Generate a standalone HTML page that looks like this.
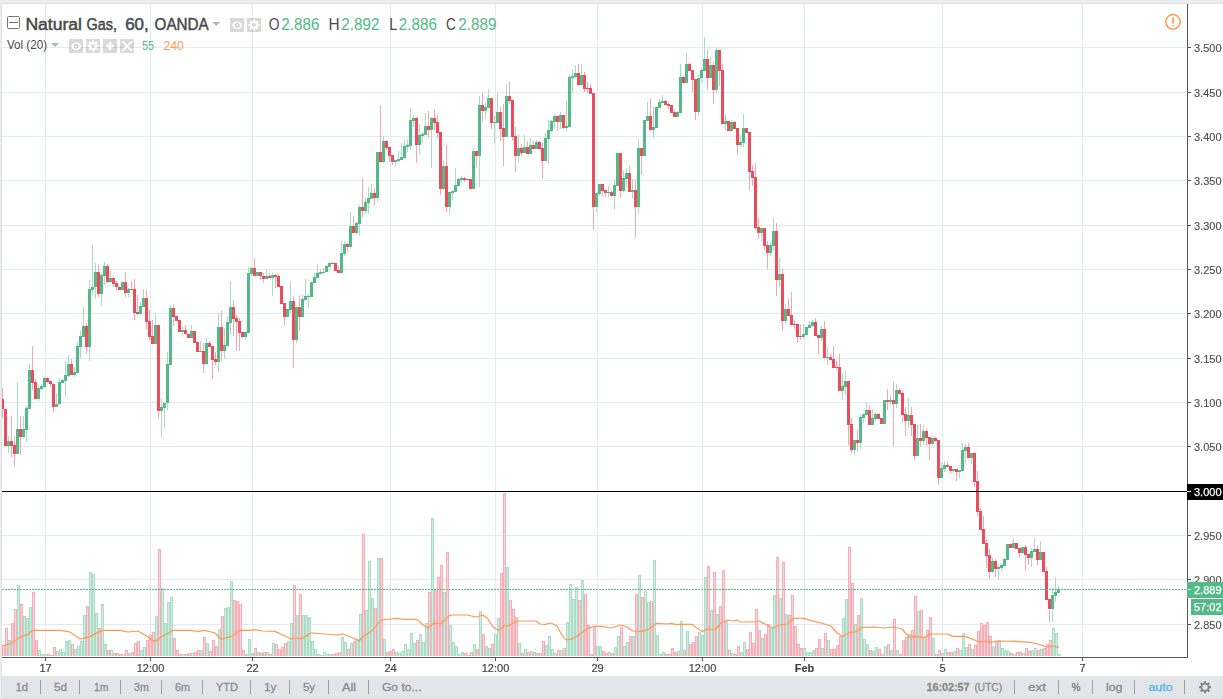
<!DOCTYPE html>
<html><head><meta charset="utf-8"><title>Natural Gas, 60, OANDA</title>
<style>html,body{margin:0;padding:0;background:#fff;overflow:hidden}body{width:1223px;height:699px;position:relative;font-family:"Liberation Sans",sans-serif}</style>
</head><body>
<svg width="1223" height="699" viewBox="0 0 1223 699" style="position:absolute;left:0;top:0;display:block">
<rect x="0" y="0" width="1223" height="699" fill="#eaeef1"/>
<rect x="1" y="3" width="1222" height="696" fill="#dde1e5"/>
<rect x="2" y="4" width="1221" height="695" fill="#ffffff"/>
<g shape-rendering="crispEdges">
<rect x="2" y="47" width="1184" height="1" fill="#e1ecf2"/>
<rect x="2" y="92" width="1184" height="1" fill="#e1ecf2"/>
<rect x="2" y="136" width="1184" height="1" fill="#e1ecf2"/>
<rect x="2" y="180" width="1184" height="1" fill="#e1ecf2"/>
<rect x="2" y="225" width="1184" height="1" fill="#e1ecf2"/>
<rect x="2" y="269" width="1184" height="1" fill="#e1ecf2"/>
<rect x="2" y="313" width="1184" height="1" fill="#e1ecf2"/>
<rect x="2" y="358" width="1184" height="1" fill="#e1ecf2"/>
<rect x="2" y="402" width="1184" height="1" fill="#e1ecf2"/>
<rect x="2" y="446" width="1184" height="1" fill="#e1ecf2"/>
<rect x="2" y="535" width="1184" height="1" fill="#e1ecf2"/>
<rect x="2" y="579" width="1184" height="1" fill="#e1ecf2"/>
<rect x="2" y="624" width="1184" height="1" fill="#e1ecf2"/>
<rect x="45" y="4" width="1" height="653" fill="#e1ecf2"/>
<rect x="150" y="4" width="1" height="653" fill="#e1ecf2"/>
<rect x="252" y="4" width="1" height="653" fill="#e1ecf2"/>
<rect x="390" y="4" width="1" height="653" fill="#e1ecf2"/>
<rect x="495" y="4" width="1" height="653" fill="#e1ecf2"/>
<rect x="597" y="4" width="1" height="653" fill="#e1ecf2"/>
<rect x="702" y="4" width="1" height="653" fill="#e1ecf2"/>
<rect x="804" y="4" width="1" height="653" fill="#e1ecf2"/>
<rect x="942" y="4" width="1" height="653" fill="#e1ecf2"/>
<rect x="1082" y="4" width="1" height="653" fill="#e1ecf2"/>
<rect x="2" y="645" width="3" height="11" fill="#f5adb6"/>
<rect x="3" y="646" width="1" height="10" fill="#fcd6db"/>
<rect x="5" y="628" width="3" height="28" fill="#f5adb6"/>
<rect x="6" y="629" width="1" height="27" fill="#fcd6db"/>
<rect x="8" y="640" width="3" height="16" fill="#abdcc6"/>
<rect x="9" y="641" width="1" height="15" fill="#d2ede1"/>
<rect x="11" y="623" width="3" height="33" fill="#f5adb6"/>
<rect x="12" y="624" width="1" height="32" fill="#fcd6db"/>
<rect x="14" y="609" width="3" height="47" fill="#f5adb6"/>
<rect x="15" y="610" width="1" height="46" fill="#fcd6db"/>
<rect x="17" y="585" width="3" height="71" fill="#abdcc6"/>
<rect x="18" y="586" width="1" height="70" fill="#d2ede1"/>
<rect x="20" y="604" width="3" height="52" fill="#f5adb6"/>
<rect x="21" y="605" width="1" height="51" fill="#fcd6db"/>
<rect x="23" y="616" width="3" height="40" fill="#abdcc6"/>
<rect x="24" y="617" width="1" height="39" fill="#d2ede1"/>
<rect x="26" y="618" width="3" height="38" fill="#abdcc6"/>
<rect x="27" y="619" width="1" height="37" fill="#d2ede1"/>
<rect x="29" y="607" width="3" height="49" fill="#abdcc6"/>
<rect x="30" y="608" width="1" height="48" fill="#d2ede1"/>
<rect x="32" y="592" width="3" height="64" fill="#f5adb6"/>
<rect x="33" y="593" width="1" height="63" fill="#fcd6db"/>
<rect x="35" y="640" width="3" height="16" fill="#f5adb6"/>
<rect x="36" y="641" width="1" height="15" fill="#fcd6db"/>
<rect x="38" y="650" width="3" height="6" fill="#abdcc6"/>
<rect x="39" y="651" width="1" height="5" fill="#d2ede1"/>
<rect x="41" y="654" width="3" height="2" fill="#abdcc6"/>
<rect x="42" y="655" width="1" height="1" fill="#d2ede1"/>
<rect x="44" y="654" width="3" height="2" fill="#abdcc6"/>
<rect x="45" y="655" width="1" height="1" fill="#d2ede1"/>
<rect x="47" y="654" width="3" height="2" fill="#f5adb6"/>
<rect x="48" y="655" width="1" height="1" fill="#fcd6db"/>
<rect x="50" y="655" width="3" height="1" fill="#f5adb6"/>
<rect x="53" y="647" width="3" height="9" fill="#f5adb6"/>
<rect x="54" y="648" width="1" height="8" fill="#fcd6db"/>
<rect x="56" y="651" width="3" height="5" fill="#abdcc6"/>
<rect x="57" y="652" width="1" height="4" fill="#d2ede1"/>
<rect x="59" y="649" width="3" height="7" fill="#abdcc6"/>
<rect x="60" y="650" width="1" height="6" fill="#d2ede1"/>
<rect x="62" y="652" width="3" height="4" fill="#abdcc6"/>
<rect x="63" y="653" width="1" height="3" fill="#d2ede1"/>
<rect x="65" y="641" width="3" height="15" fill="#abdcc6"/>
<rect x="66" y="642" width="1" height="14" fill="#d2ede1"/>
<rect x="68" y="640" width="3" height="16" fill="#abdcc6"/>
<rect x="69" y="641" width="1" height="15" fill="#d2ede1"/>
<rect x="71" y="644" width="3" height="12" fill="#f5adb6"/>
<rect x="72" y="645" width="1" height="11" fill="#fcd6db"/>
<rect x="74" y="649" width="3" height="7" fill="#abdcc6"/>
<rect x="75" y="650" width="1" height="6" fill="#d2ede1"/>
<rect x="77" y="646" width="3" height="10" fill="#abdcc6"/>
<rect x="78" y="647" width="1" height="9" fill="#d2ede1"/>
<rect x="80" y="641" width="3" height="15" fill="#abdcc6"/>
<rect x="81" y="642" width="1" height="14" fill="#d2ede1"/>
<rect x="83" y="615" width="3" height="41" fill="#abdcc6"/>
<rect x="84" y="616" width="1" height="40" fill="#d2ede1"/>
<rect x="86" y="606" width="3" height="50" fill="#f5adb6"/>
<rect x="87" y="607" width="1" height="49" fill="#fcd6db"/>
<rect x="89" y="572" width="3" height="84" fill="#abdcc6"/>
<rect x="90" y="573" width="1" height="83" fill="#d2ede1"/>
<rect x="92" y="574" width="3" height="82" fill="#abdcc6"/>
<rect x="93" y="575" width="1" height="81" fill="#d2ede1"/>
<rect x="95" y="613" width="3" height="43" fill="#abdcc6"/>
<rect x="96" y="614" width="1" height="42" fill="#d2ede1"/>
<rect x="98" y="628" width="3" height="28" fill="#f5adb6"/>
<rect x="99" y="629" width="1" height="27" fill="#fcd6db"/>
<rect x="101" y="604" width="3" height="52" fill="#abdcc6"/>
<rect x="102" y="605" width="1" height="51" fill="#d2ede1"/>
<rect x="104" y="644" width="3" height="12" fill="#abdcc6"/>
<rect x="105" y="645" width="1" height="11" fill="#d2ede1"/>
<rect x="107" y="650" width="3" height="6" fill="#f5adb6"/>
<rect x="108" y="651" width="1" height="5" fill="#fcd6db"/>
<rect x="110" y="650" width="3" height="6" fill="#abdcc6"/>
<rect x="111" y="651" width="1" height="5" fill="#d2ede1"/>
<rect x="113" y="653" width="3" height="3" fill="#f5adb6"/>
<rect x="114" y="654" width="1" height="2" fill="#fcd6db"/>
<rect x="116" y="653" width="3" height="3" fill="#f5adb6"/>
<rect x="117" y="654" width="1" height="2" fill="#fcd6db"/>
<rect x="119" y="654" width="3" height="2" fill="#f5adb6"/>
<rect x="120" y="655" width="1" height="1" fill="#fcd6db"/>
<rect x="122" y="654" width="3" height="2" fill="#abdcc6"/>
<rect x="123" y="655" width="1" height="1" fill="#d2ede1"/>
<rect x="125" y="650" width="3" height="6" fill="#f5adb6"/>
<rect x="126" y="651" width="1" height="5" fill="#fcd6db"/>
<rect x="128" y="653" width="3" height="3" fill="#abdcc6"/>
<rect x="129" y="654" width="1" height="2" fill="#d2ede1"/>
<rect x="131" y="652" width="3" height="4" fill="#f5adb6"/>
<rect x="132" y="653" width="1" height="3" fill="#fcd6db"/>
<rect x="134" y="643" width="3" height="13" fill="#f5adb6"/>
<rect x="135" y="644" width="1" height="12" fill="#fcd6db"/>
<rect x="137" y="641" width="3" height="15" fill="#f5adb6"/>
<rect x="138" y="642" width="1" height="14" fill="#fcd6db"/>
<rect x="140" y="650" width="3" height="6" fill="#abdcc6"/>
<rect x="141" y="651" width="1" height="5" fill="#d2ede1"/>
<rect x="143" y="647" width="3" height="9" fill="#abdcc6"/>
<rect x="144" y="648" width="1" height="8" fill="#d2ede1"/>
<rect x="146" y="640" width="3" height="16" fill="#f5adb6"/>
<rect x="147" y="641" width="1" height="15" fill="#fcd6db"/>
<rect x="149" y="635" width="3" height="21" fill="#f5adb6"/>
<rect x="150" y="636" width="1" height="20" fill="#fcd6db"/>
<rect x="152" y="632" width="3" height="24" fill="#f5adb6"/>
<rect x="153" y="633" width="1" height="23" fill="#fcd6db"/>
<rect x="155" y="616" width="3" height="40" fill="#abdcc6"/>
<rect x="156" y="617" width="1" height="39" fill="#d2ede1"/>
<rect x="158" y="549" width="3" height="107" fill="#f5adb6"/>
<rect x="159" y="550" width="1" height="106" fill="#fcd6db"/>
<rect x="161" y="588" width="3" height="68" fill="#abdcc6"/>
<rect x="162" y="589" width="1" height="67" fill="#d2ede1"/>
<rect x="164" y="623" width="3" height="33" fill="#abdcc6"/>
<rect x="165" y="624" width="1" height="32" fill="#d2ede1"/>
<rect x="167" y="602" width="3" height="54" fill="#abdcc6"/>
<rect x="168" y="603" width="1" height="53" fill="#d2ede1"/>
<rect x="170" y="597" width="3" height="59" fill="#abdcc6"/>
<rect x="171" y="598" width="1" height="58" fill="#d2ede1"/>
<rect x="173" y="638" width="3" height="18" fill="#f5adb6"/>
<rect x="174" y="639" width="1" height="17" fill="#fcd6db"/>
<rect x="176" y="650" width="3" height="6" fill="#f5adb6"/>
<rect x="177" y="651" width="1" height="5" fill="#fcd6db"/>
<rect x="179" y="654" width="3" height="2" fill="#f5adb6"/>
<rect x="180" y="655" width="1" height="1" fill="#fcd6db"/>
<rect x="182" y="654" width="3" height="2" fill="#abdcc6"/>
<rect x="183" y="655" width="1" height="1" fill="#d2ede1"/>
<rect x="185" y="654" width="3" height="2" fill="#f5adb6"/>
<rect x="186" y="655" width="1" height="1" fill="#fcd6db"/>
<rect x="188" y="653" width="3" height="3" fill="#f5adb6"/>
<rect x="189" y="654" width="1" height="2" fill="#fcd6db"/>
<rect x="191" y="653" width="3" height="3" fill="#abdcc6"/>
<rect x="192" y="654" width="1" height="2" fill="#d2ede1"/>
<rect x="194" y="652" width="3" height="4" fill="#f5adb6"/>
<rect x="195" y="653" width="1" height="3" fill="#fcd6db"/>
<rect x="197" y="650" width="3" height="6" fill="#f5adb6"/>
<rect x="198" y="651" width="1" height="5" fill="#fcd6db"/>
<rect x="200" y="650" width="3" height="6" fill="#abdcc6"/>
<rect x="201" y="651" width="1" height="5" fill="#d2ede1"/>
<rect x="203" y="637" width="3" height="19" fill="#f5adb6"/>
<rect x="204" y="638" width="1" height="18" fill="#fcd6db"/>
<rect x="206" y="643" width="3" height="13" fill="#abdcc6"/>
<rect x="207" y="644" width="1" height="12" fill="#d2ede1"/>
<rect x="209" y="651" width="3" height="5" fill="#f5adb6"/>
<rect x="210" y="652" width="1" height="4" fill="#fcd6db"/>
<rect x="212" y="640" width="3" height="16" fill="#f5adb6"/>
<rect x="213" y="641" width="1" height="15" fill="#fcd6db"/>
<rect x="215" y="646" width="3" height="10" fill="#f5adb6"/>
<rect x="216" y="647" width="1" height="9" fill="#fcd6db"/>
<rect x="218" y="629" width="3" height="27" fill="#abdcc6"/>
<rect x="219" y="630" width="1" height="26" fill="#d2ede1"/>
<rect x="221" y="616" width="3" height="40" fill="#f5adb6"/>
<rect x="222" y="617" width="1" height="39" fill="#fcd6db"/>
<rect x="224" y="608" width="3" height="48" fill="#abdcc6"/>
<rect x="225" y="609" width="1" height="47" fill="#d2ede1"/>
<rect x="227" y="607" width="3" height="49" fill="#abdcc6"/>
<rect x="228" y="608" width="1" height="48" fill="#d2ede1"/>
<rect x="230" y="581" width="3" height="75" fill="#abdcc6"/>
<rect x="231" y="582" width="1" height="74" fill="#d2ede1"/>
<rect x="233" y="600" width="3" height="56" fill="#f5adb6"/>
<rect x="234" y="601" width="1" height="55" fill="#fcd6db"/>
<rect x="236" y="601" width="3" height="55" fill="#f5adb6"/>
<rect x="237" y="602" width="1" height="54" fill="#fcd6db"/>
<rect x="239" y="604" width="3" height="52" fill="#f5adb6"/>
<rect x="240" y="605" width="1" height="51" fill="#fcd6db"/>
<rect x="242" y="650" width="3" height="6" fill="#f5adb6"/>
<rect x="243" y="651" width="1" height="5" fill="#fcd6db"/>
<rect x="245" y="654" width="3" height="2" fill="#abdcc6"/>
<rect x="246" y="655" width="1" height="1" fill="#d2ede1"/>
<rect x="248" y="639" width="3" height="17" fill="#abdcc6"/>
<rect x="249" y="640" width="1" height="16" fill="#d2ede1"/>
<rect x="251" y="653" width="3" height="3" fill="#abdcc6"/>
<rect x="252" y="654" width="1" height="2" fill="#d2ede1"/>
<rect x="254" y="648" width="3" height="8" fill="#f5adb6"/>
<rect x="255" y="649" width="1" height="7" fill="#fcd6db"/>
<rect x="257" y="652" width="3" height="4" fill="#abdcc6"/>
<rect x="258" y="653" width="1" height="3" fill="#d2ede1"/>
<rect x="260" y="653" width="3" height="3" fill="#f5adb6"/>
<rect x="261" y="654" width="1" height="2" fill="#fcd6db"/>
<rect x="263" y="652" width="3" height="4" fill="#f5adb6"/>
<rect x="264" y="653" width="1" height="3" fill="#fcd6db"/>
<rect x="266" y="652" width="3" height="4" fill="#abdcc6"/>
<rect x="267" y="653" width="1" height="3" fill="#d2ede1"/>
<rect x="269" y="654" width="3" height="2" fill="#f5adb6"/>
<rect x="270" y="655" width="1" height="1" fill="#fcd6db"/>
<rect x="272" y="643" width="3" height="13" fill="#abdcc6"/>
<rect x="273" y="644" width="1" height="12" fill="#d2ede1"/>
<rect x="275" y="644" width="3" height="12" fill="#f5adb6"/>
<rect x="276" y="645" width="1" height="11" fill="#fcd6db"/>
<rect x="278" y="649" width="3" height="7" fill="#f5adb6"/>
<rect x="279" y="650" width="1" height="6" fill="#fcd6db"/>
<rect x="281" y="647" width="3" height="9" fill="#f5adb6"/>
<rect x="282" y="648" width="1" height="8" fill="#fcd6db"/>
<rect x="284" y="643" width="3" height="13" fill="#f5adb6"/>
<rect x="285" y="644" width="1" height="12" fill="#fcd6db"/>
<rect x="287" y="641" width="3" height="15" fill="#abdcc6"/>
<rect x="288" y="642" width="1" height="14" fill="#d2ede1"/>
<rect x="290" y="623" width="3" height="33" fill="#abdcc6"/>
<rect x="291" y="624" width="1" height="32" fill="#d2ede1"/>
<rect x="293" y="585" width="3" height="71" fill="#f5adb6"/>
<rect x="294" y="586" width="1" height="70" fill="#fcd6db"/>
<rect x="296" y="615" width="3" height="41" fill="#abdcc6"/>
<rect x="297" y="616" width="1" height="40" fill="#d2ede1"/>
<rect x="299" y="594" width="3" height="62" fill="#f5adb6"/>
<rect x="300" y="595" width="1" height="61" fill="#fcd6db"/>
<rect x="302" y="615" width="3" height="41" fill="#abdcc6"/>
<rect x="303" y="616" width="1" height="40" fill="#d2ede1"/>
<rect x="305" y="615" width="3" height="41" fill="#abdcc6"/>
<rect x="306" y="616" width="1" height="40" fill="#d2ede1"/>
<rect x="308" y="617" width="3" height="39" fill="#abdcc6"/>
<rect x="309" y="618" width="1" height="38" fill="#d2ede1"/>
<rect x="311" y="641" width="3" height="15" fill="#abdcc6"/>
<rect x="312" y="642" width="1" height="14" fill="#d2ede1"/>
<rect x="314" y="649" width="3" height="7" fill="#abdcc6"/>
<rect x="315" y="650" width="1" height="6" fill="#d2ede1"/>
<rect x="317" y="654" width="3" height="2" fill="#abdcc6"/>
<rect x="318" y="655" width="1" height="1" fill="#d2ede1"/>
<rect x="320" y="655" width="3" height="1" fill="#abdcc6"/>
<rect x="323" y="652" width="3" height="4" fill="#abdcc6"/>
<rect x="324" y="653" width="1" height="3" fill="#d2ede1"/>
<rect x="326" y="654" width="3" height="2" fill="#abdcc6"/>
<rect x="327" y="655" width="1" height="1" fill="#d2ede1"/>
<rect x="329" y="654" width="3" height="2" fill="#abdcc6"/>
<rect x="330" y="655" width="1" height="1" fill="#d2ede1"/>
<rect x="332" y="654" width="3" height="2" fill="#f5adb6"/>
<rect x="333" y="655" width="1" height="1" fill="#fcd6db"/>
<rect x="335" y="653" width="3" height="3" fill="#f5adb6"/>
<rect x="336" y="654" width="1" height="2" fill="#fcd6db"/>
<rect x="338" y="652" width="3" height="4" fill="#f5adb6"/>
<rect x="339" y="653" width="1" height="3" fill="#fcd6db"/>
<rect x="341" y="637" width="3" height="19" fill="#abdcc6"/>
<rect x="342" y="638" width="1" height="18" fill="#d2ede1"/>
<rect x="344" y="642" width="3" height="14" fill="#abdcc6"/>
<rect x="345" y="643" width="1" height="13" fill="#d2ede1"/>
<rect x="347" y="649" width="3" height="7" fill="#f5adb6"/>
<rect x="348" y="650" width="1" height="6" fill="#fcd6db"/>
<rect x="350" y="643" width="3" height="13" fill="#abdcc6"/>
<rect x="351" y="644" width="1" height="12" fill="#d2ede1"/>
<rect x="353" y="641" width="3" height="15" fill="#f5adb6"/>
<rect x="354" y="642" width="1" height="14" fill="#fcd6db"/>
<rect x="356" y="639" width="3" height="17" fill="#abdcc6"/>
<rect x="357" y="640" width="1" height="16" fill="#d2ede1"/>
<rect x="359" y="614" width="3" height="42" fill="#abdcc6"/>
<rect x="360" y="615" width="1" height="41" fill="#d2ede1"/>
<rect x="362" y="534" width="3" height="122" fill="#f5adb6"/>
<rect x="363" y="535" width="1" height="121" fill="#fcd6db"/>
<rect x="365" y="610" width="3" height="46" fill="#abdcc6"/>
<rect x="366" y="611" width="1" height="45" fill="#d2ede1"/>
<rect x="368" y="561" width="3" height="95" fill="#abdcc6"/>
<rect x="369" y="562" width="1" height="94" fill="#d2ede1"/>
<rect x="371" y="598" width="3" height="58" fill="#abdcc6"/>
<rect x="372" y="599" width="1" height="57" fill="#d2ede1"/>
<rect x="374" y="608" width="3" height="48" fill="#f5adb6"/>
<rect x="375" y="609" width="1" height="47" fill="#fcd6db"/>
<rect x="377" y="558" width="3" height="98" fill="#abdcc6"/>
<rect x="378" y="559" width="1" height="97" fill="#d2ede1"/>
<rect x="380" y="558" width="3" height="98" fill="#f5adb6"/>
<rect x="381" y="559" width="1" height="97" fill="#fcd6db"/>
<rect x="383" y="639" width="3" height="17" fill="#abdcc6"/>
<rect x="384" y="640" width="1" height="16" fill="#d2ede1"/>
<rect x="386" y="652" width="3" height="4" fill="#f5adb6"/>
<rect x="387" y="653" width="1" height="3" fill="#fcd6db"/>
<rect x="389" y="651" width="3" height="5" fill="#f5adb6"/>
<rect x="390" y="652" width="1" height="4" fill="#fcd6db"/>
<rect x="392" y="649" width="3" height="7" fill="#f5adb6"/>
<rect x="393" y="650" width="1" height="6" fill="#fcd6db"/>
<rect x="395" y="652" width="3" height="4" fill="#abdcc6"/>
<rect x="396" y="653" width="1" height="3" fill="#d2ede1"/>
<rect x="398" y="653" width="3" height="3" fill="#abdcc6"/>
<rect x="399" y="654" width="1" height="2" fill="#d2ede1"/>
<rect x="401" y="651" width="3" height="5" fill="#abdcc6"/>
<rect x="402" y="652" width="1" height="4" fill="#d2ede1"/>
<rect x="404" y="644" width="3" height="12" fill="#abdcc6"/>
<rect x="405" y="645" width="1" height="11" fill="#d2ede1"/>
<rect x="407" y="649" width="3" height="7" fill="#abdcc6"/>
<rect x="408" y="650" width="1" height="6" fill="#d2ede1"/>
<rect x="410" y="633" width="3" height="23" fill="#abdcc6"/>
<rect x="411" y="634" width="1" height="22" fill="#d2ede1"/>
<rect x="413" y="643" width="3" height="13" fill="#abdcc6"/>
<rect x="414" y="644" width="1" height="12" fill="#d2ede1"/>
<rect x="416" y="640" width="3" height="16" fill="#f5adb6"/>
<rect x="417" y="641" width="1" height="15" fill="#fcd6db"/>
<rect x="419" y="634" width="3" height="22" fill="#abdcc6"/>
<rect x="420" y="635" width="1" height="21" fill="#d2ede1"/>
<rect x="422" y="642" width="3" height="14" fill="#abdcc6"/>
<rect x="423" y="643" width="1" height="13" fill="#d2ede1"/>
<rect x="425" y="623" width="3" height="33" fill="#abdcc6"/>
<rect x="426" y="624" width="1" height="32" fill="#d2ede1"/>
<rect x="428" y="592" width="3" height="64" fill="#f5adb6"/>
<rect x="429" y="593" width="1" height="63" fill="#fcd6db"/>
<rect x="431" y="518" width="3" height="138" fill="#abdcc6"/>
<rect x="432" y="519" width="1" height="137" fill="#d2ede1"/>
<rect x="434" y="590" width="3" height="66" fill="#f5adb6"/>
<rect x="435" y="591" width="1" height="65" fill="#fcd6db"/>
<rect x="437" y="577" width="3" height="79" fill="#f5adb6"/>
<rect x="438" y="578" width="1" height="78" fill="#fcd6db"/>
<rect x="440" y="565" width="3" height="91" fill="#f5adb6"/>
<rect x="441" y="566" width="1" height="90" fill="#fcd6db"/>
<rect x="443" y="592" width="3" height="64" fill="#abdcc6"/>
<rect x="444" y="593" width="1" height="63" fill="#d2ede1"/>
<rect x="446" y="552" width="3" height="104" fill="#f5adb6"/>
<rect x="447" y="553" width="1" height="103" fill="#fcd6db"/>
<rect x="449" y="625" width="3" height="31" fill="#abdcc6"/>
<rect x="450" y="626" width="1" height="30" fill="#d2ede1"/>
<rect x="452" y="642" width="3" height="14" fill="#abdcc6"/>
<rect x="453" y="643" width="1" height="13" fill="#d2ede1"/>
<rect x="455" y="646" width="3" height="10" fill="#abdcc6"/>
<rect x="456" y="647" width="1" height="9" fill="#d2ede1"/>
<rect x="458" y="654" width="3" height="2" fill="#abdcc6"/>
<rect x="459" y="655" width="1" height="1" fill="#d2ede1"/>
<rect x="461" y="652" width="3" height="4" fill="#abdcc6"/>
<rect x="462" y="653" width="1" height="3" fill="#d2ede1"/>
<rect x="464" y="653" width="3" height="3" fill="#f5adb6"/>
<rect x="465" y="654" width="1" height="2" fill="#fcd6db"/>
<rect x="467" y="655" width="3" height="1" fill="#f5adb6"/>
<rect x="470" y="652" width="3" height="4" fill="#f5adb6"/>
<rect x="471" y="653" width="1" height="3" fill="#fcd6db"/>
<rect x="473" y="644" width="3" height="12" fill="#abdcc6"/>
<rect x="474" y="645" width="1" height="11" fill="#d2ede1"/>
<rect x="476" y="649" width="3" height="7" fill="#f5adb6"/>
<rect x="477" y="650" width="1" height="6" fill="#fcd6db"/>
<rect x="479" y="611" width="3" height="45" fill="#abdcc6"/>
<rect x="480" y="612" width="1" height="44" fill="#d2ede1"/>
<rect x="482" y="634" width="3" height="22" fill="#f5adb6"/>
<rect x="483" y="635" width="1" height="21" fill="#fcd6db"/>
<rect x="485" y="646" width="3" height="10" fill="#abdcc6"/>
<rect x="486" y="647" width="1" height="9" fill="#d2ede1"/>
<rect x="488" y="648" width="3" height="8" fill="#abdcc6"/>
<rect x="489" y="649" width="1" height="7" fill="#d2ede1"/>
<rect x="491" y="644" width="3" height="12" fill="#f5adb6"/>
<rect x="492" y="645" width="1" height="11" fill="#fcd6db"/>
<rect x="494" y="634" width="3" height="22" fill="#abdcc6"/>
<rect x="495" y="635" width="1" height="21" fill="#d2ede1"/>
<rect x="497" y="618" width="3" height="38" fill="#abdcc6"/>
<rect x="498" y="619" width="1" height="37" fill="#d2ede1"/>
<rect x="500" y="573" width="3" height="83" fill="#f5adb6"/>
<rect x="501" y="574" width="1" height="82" fill="#fcd6db"/>
<rect x="503" y="493" width="3" height="163" fill="#f5adb6"/>
<rect x="504" y="494" width="1" height="162" fill="#fcd6db"/>
<rect x="506" y="567" width="3" height="89" fill="#abdcc6"/>
<rect x="507" y="568" width="1" height="88" fill="#d2ede1"/>
<rect x="509" y="600" width="3" height="56" fill="#f5adb6"/>
<rect x="510" y="601" width="1" height="55" fill="#fcd6db"/>
<rect x="512" y="609" width="3" height="47" fill="#f5adb6"/>
<rect x="513" y="610" width="1" height="46" fill="#fcd6db"/>
<rect x="515" y="617" width="3" height="39" fill="#f5adb6"/>
<rect x="516" y="618" width="1" height="38" fill="#fcd6db"/>
<rect x="518" y="643" width="3" height="13" fill="#abdcc6"/>
<rect x="519" y="644" width="1" height="12" fill="#d2ede1"/>
<rect x="521" y="653" width="3" height="3" fill="#f5adb6"/>
<rect x="522" y="654" width="1" height="2" fill="#fcd6db"/>
<rect x="524" y="649" width="3" height="7" fill="#abdcc6"/>
<rect x="525" y="650" width="1" height="6" fill="#d2ede1"/>
<rect x="527" y="652" width="3" height="4" fill="#f5adb6"/>
<rect x="528" y="653" width="1" height="3" fill="#fcd6db"/>
<rect x="530" y="651" width="3" height="5" fill="#abdcc6"/>
<rect x="531" y="652" width="1" height="4" fill="#d2ede1"/>
<rect x="533" y="652" width="3" height="4" fill="#f5adb6"/>
<rect x="534" y="653" width="1" height="3" fill="#fcd6db"/>
<rect x="536" y="653" width="3" height="3" fill="#abdcc6"/>
<rect x="537" y="654" width="1" height="2" fill="#d2ede1"/>
<rect x="539" y="653" width="3" height="3" fill="#f5adb6"/>
<rect x="540" y="654" width="1" height="2" fill="#fcd6db"/>
<rect x="542" y="641" width="3" height="15" fill="#f5adb6"/>
<rect x="543" y="642" width="1" height="14" fill="#fcd6db"/>
<rect x="545" y="645" width="3" height="11" fill="#abdcc6"/>
<rect x="546" y="646" width="1" height="10" fill="#d2ede1"/>
<rect x="548" y="636" width="3" height="20" fill="#abdcc6"/>
<rect x="549" y="637" width="1" height="19" fill="#d2ede1"/>
<rect x="551" y="649" width="3" height="7" fill="#abdcc6"/>
<rect x="552" y="650" width="1" height="6" fill="#d2ede1"/>
<rect x="554" y="653" width="3" height="3" fill="#abdcc6"/>
<rect x="555" y="654" width="1" height="2" fill="#d2ede1"/>
<rect x="557" y="650" width="3" height="6" fill="#f5adb6"/>
<rect x="558" y="651" width="1" height="5" fill="#fcd6db"/>
<rect x="560" y="650" width="3" height="6" fill="#abdcc6"/>
<rect x="561" y="651" width="1" height="5" fill="#d2ede1"/>
<rect x="563" y="648" width="3" height="8" fill="#f5adb6"/>
<rect x="564" y="649" width="1" height="7" fill="#fcd6db"/>
<rect x="566" y="622" width="3" height="34" fill="#abdcc6"/>
<rect x="567" y="623" width="1" height="33" fill="#d2ede1"/>
<rect x="569" y="584" width="3" height="72" fill="#abdcc6"/>
<rect x="570" y="585" width="1" height="71" fill="#d2ede1"/>
<rect x="572" y="599" width="3" height="57" fill="#abdcc6"/>
<rect x="573" y="600" width="1" height="56" fill="#d2ede1"/>
<rect x="575" y="587" width="3" height="69" fill="#abdcc6"/>
<rect x="576" y="588" width="1" height="68" fill="#d2ede1"/>
<rect x="578" y="600" width="3" height="56" fill="#f5adb6"/>
<rect x="579" y="601" width="1" height="55" fill="#fcd6db"/>
<rect x="581" y="580" width="3" height="76" fill="#abdcc6"/>
<rect x="582" y="581" width="1" height="75" fill="#d2ede1"/>
<rect x="584" y="594" width="3" height="62" fill="#f5adb6"/>
<rect x="585" y="595" width="1" height="61" fill="#fcd6db"/>
<rect x="587" y="625" width="3" height="31" fill="#f5adb6"/>
<rect x="588" y="626" width="1" height="30" fill="#fcd6db"/>
<rect x="590" y="654" width="3" height="2" fill="#f5adb6"/>
<rect x="591" y="655" width="1" height="1" fill="#fcd6db"/>
<rect x="593" y="626" width="3" height="30" fill="#f5adb6"/>
<rect x="594" y="627" width="1" height="29" fill="#fcd6db"/>
<rect x="596" y="646" width="3" height="10" fill="#abdcc6"/>
<rect x="597" y="647" width="1" height="9" fill="#d2ede1"/>
<rect x="599" y="646" width="3" height="10" fill="#abdcc6"/>
<rect x="600" y="647" width="1" height="9" fill="#d2ede1"/>
<rect x="602" y="651" width="3" height="5" fill="#f5adb6"/>
<rect x="603" y="652" width="1" height="4" fill="#fcd6db"/>
<rect x="605" y="653" width="3" height="3" fill="#f5adb6"/>
<rect x="606" y="654" width="1" height="2" fill="#fcd6db"/>
<rect x="608" y="652" width="3" height="4" fill="#abdcc6"/>
<rect x="609" y="653" width="1" height="3" fill="#d2ede1"/>
<rect x="611" y="653" width="3" height="3" fill="#f5adb6"/>
<rect x="612" y="654" width="1" height="2" fill="#fcd6db"/>
<rect x="614" y="647" width="3" height="9" fill="#abdcc6"/>
<rect x="615" y="648" width="1" height="8" fill="#d2ede1"/>
<rect x="617" y="636" width="3" height="20" fill="#abdcc6"/>
<rect x="618" y="637" width="1" height="19" fill="#d2ede1"/>
<rect x="620" y="627" width="3" height="29" fill="#f5adb6"/>
<rect x="621" y="628" width="1" height="28" fill="#fcd6db"/>
<rect x="623" y="646" width="3" height="10" fill="#abdcc6"/>
<rect x="624" y="647" width="1" height="9" fill="#d2ede1"/>
<rect x="626" y="642" width="3" height="14" fill="#abdcc6"/>
<rect x="627" y="643" width="1" height="13" fill="#d2ede1"/>
<rect x="629" y="636" width="3" height="20" fill="#f5adb6"/>
<rect x="630" y="637" width="1" height="19" fill="#fcd6db"/>
<rect x="632" y="636" width="3" height="20" fill="#abdcc6"/>
<rect x="633" y="637" width="1" height="19" fill="#d2ede1"/>
<rect x="635" y="594" width="3" height="62" fill="#f5adb6"/>
<rect x="636" y="595" width="1" height="61" fill="#fcd6db"/>
<rect x="638" y="575" width="3" height="81" fill="#abdcc6"/>
<rect x="639" y="576" width="1" height="80" fill="#d2ede1"/>
<rect x="641" y="597" width="3" height="59" fill="#f5adb6"/>
<rect x="642" y="598" width="1" height="58" fill="#fcd6db"/>
<rect x="644" y="591" width="3" height="65" fill="#abdcc6"/>
<rect x="645" y="592" width="1" height="64" fill="#d2ede1"/>
<rect x="647" y="602" width="3" height="54" fill="#abdcc6"/>
<rect x="648" y="603" width="1" height="53" fill="#d2ede1"/>
<rect x="650" y="601" width="3" height="55" fill="#f5adb6"/>
<rect x="651" y="602" width="1" height="54" fill="#fcd6db"/>
<rect x="653" y="560" width="3" height="96" fill="#abdcc6"/>
<rect x="654" y="561" width="1" height="95" fill="#d2ede1"/>
<rect x="656" y="635" width="3" height="21" fill="#abdcc6"/>
<rect x="657" y="636" width="1" height="20" fill="#d2ede1"/>
<rect x="659" y="654" width="3" height="2" fill="#abdcc6"/>
<rect x="660" y="655" width="1" height="1" fill="#d2ede1"/>
<rect x="662" y="652" width="3" height="4" fill="#abdcc6"/>
<rect x="663" y="653" width="1" height="3" fill="#d2ede1"/>
<rect x="665" y="654" width="3" height="2" fill="#f5adb6"/>
<rect x="666" y="655" width="1" height="1" fill="#fcd6db"/>
<rect x="668" y="654" width="3" height="2" fill="#f5adb6"/>
<rect x="669" y="655" width="1" height="1" fill="#fcd6db"/>
<rect x="671" y="648" width="3" height="8" fill="#f5adb6"/>
<rect x="672" y="649" width="1" height="7" fill="#fcd6db"/>
<rect x="674" y="652" width="3" height="4" fill="#f5adb6"/>
<rect x="675" y="653" width="1" height="3" fill="#fcd6db"/>
<rect x="677" y="651" width="3" height="5" fill="#abdcc6"/>
<rect x="678" y="652" width="1" height="4" fill="#d2ede1"/>
<rect x="680" y="621" width="3" height="35" fill="#abdcc6"/>
<rect x="681" y="622" width="1" height="34" fill="#d2ede1"/>
<rect x="683" y="650" width="3" height="6" fill="#f5adb6"/>
<rect x="684" y="651" width="1" height="5" fill="#fcd6db"/>
<rect x="686" y="631" width="3" height="25" fill="#abdcc6"/>
<rect x="687" y="632" width="1" height="24" fill="#d2ede1"/>
<rect x="689" y="644" width="3" height="12" fill="#f5adb6"/>
<rect x="690" y="645" width="1" height="11" fill="#fcd6db"/>
<rect x="692" y="642" width="3" height="14" fill="#f5adb6"/>
<rect x="693" y="643" width="1" height="13" fill="#fcd6db"/>
<rect x="695" y="636" width="3" height="20" fill="#f5adb6"/>
<rect x="696" y="637" width="1" height="19" fill="#fcd6db"/>
<rect x="698" y="632" width="3" height="24" fill="#abdcc6"/>
<rect x="699" y="633" width="1" height="23" fill="#d2ede1"/>
<rect x="701" y="635" width="3" height="21" fill="#abdcc6"/>
<rect x="702" y="636" width="1" height="20" fill="#d2ede1"/>
<rect x="704" y="577" width="3" height="79" fill="#abdcc6"/>
<rect x="705" y="578" width="1" height="78" fill="#d2ede1"/>
<rect x="707" y="566" width="3" height="90" fill="#f5adb6"/>
<rect x="708" y="567" width="1" height="89" fill="#fcd6db"/>
<rect x="710" y="610" width="3" height="46" fill="#abdcc6"/>
<rect x="711" y="611" width="1" height="45" fill="#d2ede1"/>
<rect x="713" y="572" width="3" height="84" fill="#f5adb6"/>
<rect x="714" y="573" width="1" height="83" fill="#fcd6db"/>
<rect x="716" y="614" width="3" height="42" fill="#abdcc6"/>
<rect x="717" y="615" width="1" height="41" fill="#d2ede1"/>
<rect x="719" y="606" width="3" height="50" fill="#f5adb6"/>
<rect x="720" y="607" width="1" height="49" fill="#fcd6db"/>
<rect x="722" y="570" width="3" height="86" fill="#f5adb6"/>
<rect x="723" y="571" width="1" height="85" fill="#fcd6db"/>
<rect x="725" y="621" width="3" height="35" fill="#abdcc6"/>
<rect x="726" y="622" width="1" height="34" fill="#d2ede1"/>
<rect x="728" y="650" width="3" height="6" fill="#f5adb6"/>
<rect x="729" y="651" width="1" height="5" fill="#fcd6db"/>
<rect x="731" y="653" width="3" height="3" fill="#abdcc6"/>
<rect x="732" y="654" width="1" height="2" fill="#d2ede1"/>
<rect x="734" y="654" width="3" height="2" fill="#f5adb6"/>
<rect x="735" y="655" width="1" height="1" fill="#fcd6db"/>
<rect x="737" y="646" width="3" height="10" fill="#f5adb6"/>
<rect x="738" y="647" width="1" height="9" fill="#fcd6db"/>
<rect x="740" y="652" width="3" height="4" fill="#abdcc6"/>
<rect x="741" y="653" width="1" height="3" fill="#d2ede1"/>
<rect x="743" y="642" width="3" height="14" fill="#abdcc6"/>
<rect x="744" y="643" width="1" height="13" fill="#d2ede1"/>
<rect x="746" y="649" width="3" height="7" fill="#f5adb6"/>
<rect x="747" y="650" width="1" height="6" fill="#fcd6db"/>
<rect x="749" y="632" width="3" height="24" fill="#f5adb6"/>
<rect x="750" y="633" width="1" height="23" fill="#fcd6db"/>
<rect x="752" y="643" width="3" height="13" fill="#f5adb6"/>
<rect x="753" y="644" width="1" height="12" fill="#fcd6db"/>
<rect x="755" y="609" width="3" height="47" fill="#f5adb6"/>
<rect x="756" y="610" width="1" height="46" fill="#fcd6db"/>
<rect x="758" y="630" width="3" height="26" fill="#f5adb6"/>
<rect x="759" y="631" width="1" height="25" fill="#fcd6db"/>
<rect x="761" y="638" width="3" height="18" fill="#abdcc6"/>
<rect x="762" y="639" width="1" height="17" fill="#d2ede1"/>
<rect x="764" y="634" width="3" height="22" fill="#f5adb6"/>
<rect x="765" y="635" width="1" height="21" fill="#fcd6db"/>
<rect x="767" y="624" width="3" height="32" fill="#f5adb6"/>
<rect x="768" y="625" width="1" height="31" fill="#fcd6db"/>
<rect x="770" y="628" width="3" height="28" fill="#abdcc6"/>
<rect x="771" y="629" width="1" height="27" fill="#d2ede1"/>
<rect x="773" y="595" width="3" height="61" fill="#abdcc6"/>
<rect x="774" y="596" width="1" height="60" fill="#d2ede1"/>
<rect x="776" y="557" width="3" height="99" fill="#f5adb6"/>
<rect x="777" y="558" width="1" height="98" fill="#fcd6db"/>
<rect x="779" y="598" width="3" height="58" fill="#abdcc6"/>
<rect x="780" y="599" width="1" height="57" fill="#d2ede1"/>
<rect x="782" y="562" width="3" height="94" fill="#f5adb6"/>
<rect x="783" y="563" width="1" height="93" fill="#fcd6db"/>
<rect x="785" y="614" width="3" height="42" fill="#abdcc6"/>
<rect x="786" y="615" width="1" height="41" fill="#d2ede1"/>
<rect x="788" y="615" width="3" height="41" fill="#f5adb6"/>
<rect x="789" y="616" width="1" height="40" fill="#fcd6db"/>
<rect x="791" y="595" width="3" height="61" fill="#f5adb6"/>
<rect x="792" y="596" width="1" height="60" fill="#fcd6db"/>
<rect x="794" y="626" width="3" height="30" fill="#f5adb6"/>
<rect x="795" y="627" width="1" height="29" fill="#fcd6db"/>
<rect x="797" y="644" width="3" height="12" fill="#f5adb6"/>
<rect x="798" y="645" width="1" height="11" fill="#fcd6db"/>
<rect x="800" y="648" width="3" height="8" fill="#f5adb6"/>
<rect x="801" y="649" width="1" height="7" fill="#fcd6db"/>
<rect x="803" y="648" width="3" height="8" fill="#abdcc6"/>
<rect x="804" y="649" width="1" height="7" fill="#d2ede1"/>
<rect x="806" y="652" width="3" height="4" fill="#abdcc6"/>
<rect x="807" y="653" width="1" height="3" fill="#d2ede1"/>
<rect x="809" y="652" width="3" height="4" fill="#abdcc6"/>
<rect x="810" y="653" width="1" height="3" fill="#d2ede1"/>
<rect x="812" y="650" width="3" height="6" fill="#abdcc6"/>
<rect x="813" y="651" width="1" height="5" fill="#d2ede1"/>
<rect x="815" y="648" width="3" height="8" fill="#f5adb6"/>
<rect x="816" y="649" width="1" height="7" fill="#fcd6db"/>
<rect x="818" y="639" width="3" height="17" fill="#f5adb6"/>
<rect x="819" y="640" width="1" height="16" fill="#fcd6db"/>
<rect x="821" y="648" width="3" height="8" fill="#abdcc6"/>
<rect x="822" y="649" width="1" height="7" fill="#d2ede1"/>
<rect x="824" y="633" width="3" height="23" fill="#f5adb6"/>
<rect x="825" y="634" width="1" height="22" fill="#fcd6db"/>
<rect x="827" y="640" width="3" height="16" fill="#abdcc6"/>
<rect x="828" y="641" width="1" height="15" fill="#d2ede1"/>
<rect x="830" y="649" width="3" height="7" fill="#f5adb6"/>
<rect x="831" y="650" width="1" height="6" fill="#fcd6db"/>
<rect x="833" y="649" width="3" height="7" fill="#f5adb6"/>
<rect x="834" y="650" width="1" height="6" fill="#fcd6db"/>
<rect x="836" y="645" width="3" height="11" fill="#f5adb6"/>
<rect x="837" y="646" width="1" height="10" fill="#fcd6db"/>
<rect x="839" y="636" width="3" height="20" fill="#f5adb6"/>
<rect x="840" y="637" width="1" height="19" fill="#fcd6db"/>
<rect x="842" y="618" width="3" height="38" fill="#abdcc6"/>
<rect x="843" y="619" width="1" height="37" fill="#d2ede1"/>
<rect x="845" y="599" width="3" height="57" fill="#abdcc6"/>
<rect x="846" y="600" width="1" height="56" fill="#d2ede1"/>
<rect x="848" y="547" width="3" height="109" fill="#f5adb6"/>
<rect x="849" y="548" width="1" height="108" fill="#fcd6db"/>
<rect x="851" y="583" width="3" height="73" fill="#f5adb6"/>
<rect x="852" y="584" width="1" height="72" fill="#fcd6db"/>
<rect x="854" y="624" width="3" height="32" fill="#abdcc6"/>
<rect x="855" y="625" width="1" height="31" fill="#d2ede1"/>
<rect x="857" y="615" width="3" height="41" fill="#f5adb6"/>
<rect x="858" y="616" width="1" height="40" fill="#fcd6db"/>
<rect x="860" y="598" width="3" height="58" fill="#abdcc6"/>
<rect x="861" y="599" width="1" height="57" fill="#d2ede1"/>
<rect x="863" y="639" width="3" height="17" fill="#abdcc6"/>
<rect x="864" y="640" width="1" height="16" fill="#d2ede1"/>
<rect x="866" y="644" width="3" height="12" fill="#abdcc6"/>
<rect x="867" y="645" width="1" height="11" fill="#d2ede1"/>
<rect x="869" y="650" width="3" height="6" fill="#f5adb6"/>
<rect x="870" y="651" width="1" height="5" fill="#fcd6db"/>
<rect x="872" y="651" width="3" height="5" fill="#abdcc6"/>
<rect x="873" y="652" width="1" height="4" fill="#d2ede1"/>
<rect x="875" y="647" width="3" height="9" fill="#abdcc6"/>
<rect x="876" y="648" width="1" height="8" fill="#d2ede1"/>
<rect x="878" y="649" width="3" height="7" fill="#f5adb6"/>
<rect x="879" y="650" width="1" height="6" fill="#fcd6db"/>
<rect x="881" y="654" width="3" height="2" fill="#f5adb6"/>
<rect x="882" y="655" width="1" height="1" fill="#fcd6db"/>
<rect x="884" y="646" width="3" height="10" fill="#abdcc6"/>
<rect x="885" y="647" width="1" height="9" fill="#d2ede1"/>
<rect x="887" y="644" width="3" height="12" fill="#f5adb6"/>
<rect x="888" y="645" width="1" height="11" fill="#fcd6db"/>
<rect x="890" y="650" width="3" height="6" fill="#abdcc6"/>
<rect x="891" y="651" width="1" height="5" fill="#d2ede1"/>
<rect x="893" y="619" width="3" height="37" fill="#f5adb6"/>
<rect x="894" y="620" width="1" height="36" fill="#fcd6db"/>
<rect x="896" y="650" width="3" height="6" fill="#abdcc6"/>
<rect x="897" y="651" width="1" height="5" fill="#d2ede1"/>
<rect x="899" y="654" width="3" height="2" fill="#f5adb6"/>
<rect x="900" y="655" width="1" height="1" fill="#fcd6db"/>
<rect x="902" y="640" width="3" height="16" fill="#f5adb6"/>
<rect x="903" y="641" width="1" height="15" fill="#fcd6db"/>
<rect x="905" y="637" width="3" height="19" fill="#f5adb6"/>
<rect x="906" y="638" width="1" height="18" fill="#fcd6db"/>
<rect x="908" y="634" width="3" height="22" fill="#abdcc6"/>
<rect x="909" y="635" width="1" height="21" fill="#d2ede1"/>
<rect x="911" y="630" width="3" height="26" fill="#f5adb6"/>
<rect x="912" y="631" width="1" height="25" fill="#fcd6db"/>
<rect x="914" y="596" width="3" height="60" fill="#f5adb6"/>
<rect x="915" y="597" width="1" height="59" fill="#fcd6db"/>
<rect x="917" y="611" width="3" height="45" fill="#abdcc6"/>
<rect x="918" y="612" width="1" height="44" fill="#d2ede1"/>
<rect x="920" y="610" width="3" height="46" fill="#f5adb6"/>
<rect x="921" y="611" width="1" height="45" fill="#fcd6db"/>
<rect x="923" y="637" width="3" height="19" fill="#abdcc6"/>
<rect x="924" y="638" width="1" height="18" fill="#d2ede1"/>
<rect x="926" y="630" width="3" height="26" fill="#f5adb6"/>
<rect x="927" y="631" width="1" height="25" fill="#fcd6db"/>
<rect x="929" y="617" width="3" height="39" fill="#f5adb6"/>
<rect x="930" y="618" width="1" height="38" fill="#fcd6db"/>
<rect x="932" y="638" width="3" height="18" fill="#abdcc6"/>
<rect x="933" y="639" width="1" height="17" fill="#d2ede1"/>
<rect x="935" y="654" width="3" height="2" fill="#f5adb6"/>
<rect x="936" y="655" width="1" height="1" fill="#fcd6db"/>
<rect x="938" y="650" width="3" height="6" fill="#f5adb6"/>
<rect x="939" y="651" width="1" height="5" fill="#fcd6db"/>
<rect x="941" y="653" width="3" height="3" fill="#abdcc6"/>
<rect x="942" y="654" width="1" height="2" fill="#d2ede1"/>
<rect x="944" y="649" width="3" height="7" fill="#abdcc6"/>
<rect x="945" y="650" width="1" height="6" fill="#d2ede1"/>
<rect x="947" y="652" width="3" height="4" fill="#f5adb6"/>
<rect x="948" y="653" width="1" height="3" fill="#fcd6db"/>
<rect x="950" y="652" width="3" height="4" fill="#f5adb6"/>
<rect x="951" y="653" width="1" height="3" fill="#fcd6db"/>
<rect x="953" y="651" width="3" height="5" fill="#abdcc6"/>
<rect x="954" y="652" width="1" height="4" fill="#d2ede1"/>
<rect x="956" y="648" width="3" height="8" fill="#f5adb6"/>
<rect x="957" y="649" width="1" height="7" fill="#fcd6db"/>
<rect x="959" y="650" width="3" height="6" fill="#abdcc6"/>
<rect x="960" y="651" width="1" height="5" fill="#d2ede1"/>
<rect x="962" y="633" width="3" height="23" fill="#abdcc6"/>
<rect x="963" y="634" width="1" height="22" fill="#d2ede1"/>
<rect x="965" y="647" width="3" height="9" fill="#abdcc6"/>
<rect x="966" y="648" width="1" height="8" fill="#d2ede1"/>
<rect x="968" y="644" width="3" height="12" fill="#f5adb6"/>
<rect x="969" y="645" width="1" height="11" fill="#fcd6db"/>
<rect x="971" y="649" width="3" height="7" fill="#abdcc6"/>
<rect x="972" y="650" width="1" height="6" fill="#d2ede1"/>
<rect x="974" y="645" width="3" height="11" fill="#f5adb6"/>
<rect x="975" y="646" width="1" height="10" fill="#fcd6db"/>
<rect x="977" y="631" width="3" height="25" fill="#f5adb6"/>
<rect x="978" y="632" width="1" height="24" fill="#fcd6db"/>
<rect x="980" y="623" width="3" height="33" fill="#f5adb6"/>
<rect x="981" y="624" width="1" height="32" fill="#fcd6db"/>
<rect x="983" y="625" width="3" height="31" fill="#f5adb6"/>
<rect x="984" y="626" width="1" height="30" fill="#fcd6db"/>
<rect x="986" y="622" width="3" height="34" fill="#f5adb6"/>
<rect x="987" y="623" width="1" height="33" fill="#fcd6db"/>
<rect x="989" y="636" width="3" height="20" fill="#f5adb6"/>
<rect x="990" y="637" width="1" height="19" fill="#fcd6db"/>
<rect x="992" y="646" width="3" height="10" fill="#abdcc6"/>
<rect x="993" y="647" width="1" height="9" fill="#d2ede1"/>
<rect x="995" y="642" width="3" height="14" fill="#f5adb6"/>
<rect x="996" y="643" width="1" height="13" fill="#fcd6db"/>
<rect x="998" y="640" width="3" height="16" fill="#abdcc6"/>
<rect x="999" y="641" width="1" height="15" fill="#d2ede1"/>
<rect x="1001" y="648" width="3" height="8" fill="#abdcc6"/>
<rect x="1002" y="649" width="1" height="7" fill="#d2ede1"/>
<rect x="1004" y="650" width="3" height="6" fill="#abdcc6"/>
<rect x="1005" y="651" width="1" height="5" fill="#d2ede1"/>
<rect x="1007" y="651" width="3" height="5" fill="#abdcc6"/>
<rect x="1008" y="652" width="1" height="4" fill="#d2ede1"/>
<rect x="1010" y="653" width="3" height="3" fill="#f5adb6"/>
<rect x="1011" y="654" width="1" height="2" fill="#fcd6db"/>
<rect x="1013" y="654" width="3" height="2" fill="#abdcc6"/>
<rect x="1014" y="655" width="1" height="1" fill="#d2ede1"/>
<rect x="1016" y="652" width="3" height="4" fill="#f5adb6"/>
<rect x="1017" y="653" width="1" height="3" fill="#fcd6db"/>
<rect x="1019" y="652" width="3" height="4" fill="#f5adb6"/>
<rect x="1020" y="653" width="1" height="3" fill="#fcd6db"/>
<rect x="1022" y="653" width="3" height="3" fill="#abdcc6"/>
<rect x="1023" y="654" width="1" height="2" fill="#d2ede1"/>
<rect x="1025" y="648" width="3" height="8" fill="#f5adb6"/>
<rect x="1026" y="649" width="1" height="7" fill="#fcd6db"/>
<rect x="1028" y="651" width="3" height="5" fill="#f5adb6"/>
<rect x="1029" y="652" width="1" height="4" fill="#fcd6db"/>
<rect x="1031" y="650" width="3" height="6" fill="#abdcc6"/>
<rect x="1032" y="651" width="1" height="5" fill="#d2ede1"/>
<rect x="1034" y="648" width="3" height="8" fill="#abdcc6"/>
<rect x="1035" y="649" width="1" height="7" fill="#d2ede1"/>
<rect x="1037" y="650" width="3" height="6" fill="#f5adb6"/>
<rect x="1038" y="651" width="1" height="5" fill="#fcd6db"/>
<rect x="1040" y="649" width="3" height="7" fill="#abdcc6"/>
<rect x="1041" y="650" width="1" height="6" fill="#d2ede1"/>
<rect x="1043" y="648" width="3" height="8" fill="#f5adb6"/>
<rect x="1044" y="649" width="1" height="7" fill="#fcd6db"/>
<rect x="1046" y="644" width="3" height="12" fill="#f5adb6"/>
<rect x="1047" y="645" width="1" height="11" fill="#fcd6db"/>
<rect x="1049" y="640" width="3" height="16" fill="#f5adb6"/>
<rect x="1050" y="641" width="1" height="15" fill="#fcd6db"/>
<rect x="1052" y="628" width="3" height="28" fill="#abdcc6"/>
<rect x="1053" y="629" width="1" height="27" fill="#d2ede1"/>
<rect x="1055" y="633" width="3" height="23" fill="#abdcc6"/>
<rect x="1056" y="634" width="1" height="22" fill="#d2ede1"/>
<rect x="1058" y="654" width="3" height="2" fill="#abdcc6"/>
<rect x="1059" y="655" width="1" height="1" fill="#d2ede1"/>
</g>
<polyline points="2,645.4 5,645.4 10,644 15,640.5 20,637 24,635.6 28,634.4 31,631.5 34,630.4 60,630.4 70,632 80,639 90,636.6 100,631.4 104,630.4 120,630.4 128,632 138,631 148,637 151,640 155,641.4 161,637 173,630.4 191,630.4 198,631.4 205,630.4 215,633 221,639 231,636.6 240,630.4 251,630.4 254,629.6 263,631 275,631.4 283,635 291,639 293,638 302,638.6 311,633 325,634 337,635 343,634 353,638 359,641 363,636.6 373,630 381,620 391,619 397,618.4 403,619.4 417,619.4 423,625 428,628 434,623 441,624 449,615.6 452,615 467,615 476,617 483,615 488,619 493,627 499,630.4 504,626 507,626 518,621 536,621 540,624 545,624.4 551,623 557,626 562,635 566,640 572,639 579,635 587,628.6 594,626.4 602,626.4 611,628 621,625 627,627 633,631 643,631.4 649,629 656,623.4 667,624 671,623.4 675,624.4 692,624.4 697,628 702,631.4 708,629 715,630 721,623 728,620 733,621 737,620 741,622 752,622 759,621 767,625 773,628 779,625 787,624 794,618.4 804,618.4 811,620.6 821,623 831,626 837,633 843,636.4 849,632.4 855,632 862,627.4 875,627 883,628 894,627 902,629 909,637 915,636.4 923,637.6 931,634 947,634 953,636.4 965,636.4 973,639.4 980,642 985,641 991,642.4 997,641 1015,641.4 1031,642.4 1041,645 1047,647 1053,646 1059,647.4" fill="none" stroke="#ff9850" stroke-width="1.2" stroke-linejoin="round"/>
<g shape-rendering="crispEdges">
<rect x="2" y="388" width="1" height="11" fill="#f5a6ae"/>
<rect x="2" y="409" width="1" height="9" fill="#f5a6ae"/>
<rect x="2" y="399" width="2" height="10" fill="#eb4d5c"/>
<rect x="4" y="409" width="3" height="37" fill="#eb4d5c"/>
<rect x="8" y="436" width="1" height="5" fill="#a9dcc3"/>
<rect x="8" y="446" width="1" height="7" fill="#a9dcc3"/>
<rect x="7" y="441" width="3" height="5" fill="#53b987"/>
<rect x="11" y="416" width="1" height="25" fill="#f5a6ae"/>
<rect x="11" y="446" width="1" height="11" fill="#f5a6ae"/>
<rect x="10" y="441" width="3" height="5" fill="#eb4d5c"/>
<rect x="14" y="436" width="1" height="9" fill="#f5a6ae"/>
<rect x="14" y="454" width="1" height="12" fill="#f5a6ae"/>
<rect x="13" y="445" width="3" height="9" fill="#eb4d5c"/>
<rect x="17" y="382" width="1" height="47" fill="#a9dcc3"/>
<rect x="16" y="429" width="3" height="25" fill="#53b987"/>
<rect x="20" y="416" width="1" height="13" fill="#f5a6ae"/>
<rect x="20" y="437" width="1" height="18" fill="#f5a6ae"/>
<rect x="19" y="429" width="3" height="8" fill="#eb4d5c"/>
<rect x="23" y="416" width="1" height="13" fill="#a9dcc3"/>
<rect x="23" y="437" width="1" height="1" fill="#a9dcc3"/>
<rect x="22" y="429" width="3" height="8" fill="#53b987"/>
<rect x="26" y="406" width="1" height="2" fill="#a9dcc3"/>
<rect x="26" y="430" width="1" height="12" fill="#a9dcc3"/>
<rect x="25" y="408" width="3" height="22" fill="#53b987"/>
<rect x="29" y="364" width="1" height="6" fill="#a9dcc3"/>
<rect x="28" y="370" width="3" height="39" fill="#53b987"/>
<rect x="32" y="346" width="1" height="24" fill="#f5a6ae"/>
<rect x="32" y="383" width="1" height="7" fill="#f5a6ae"/>
<rect x="31" y="370" width="3" height="13" fill="#eb4d5c"/>
<rect x="35" y="379" width="1" height="3" fill="#f5a6ae"/>
<rect x="34" y="382" width="3" height="17" fill="#eb4d5c"/>
<rect x="38" y="385" width="1" height="3" fill="#a9dcc3"/>
<rect x="38" y="399" width="1" height="2" fill="#a9dcc3"/>
<rect x="37" y="388" width="3" height="11" fill="#53b987"/>
<rect x="41" y="384" width="1" height="2" fill="#a9dcc3"/>
<rect x="41" y="389" width="1" height="2" fill="#a9dcc3"/>
<rect x="40" y="386" width="3" height="3" fill="#53b987"/>
<rect x="44" y="377" width="1" height="1" fill="#a9dcc3"/>
<rect x="44" y="387" width="1" height="1" fill="#a9dcc3"/>
<rect x="43" y="378" width="3" height="9" fill="#53b987"/>
<rect x="47" y="377" width="1" height="1" fill="#f5a6ae"/>
<rect x="47" y="382" width="1" height="1" fill="#f5a6ae"/>
<rect x="46" y="378" width="3" height="4" fill="#eb4d5c"/>
<rect x="50" y="384" width="1" height="3" fill="#f5a6ae"/>
<rect x="49" y="381" width="3" height="3" fill="#eb4d5c"/>
<rect x="53" y="383" width="1" height="1" fill="#f5a6ae"/>
<rect x="53" y="407" width="1" height="5" fill="#f5a6ae"/>
<rect x="52" y="384" width="3" height="23" fill="#eb4d5c"/>
<rect x="56" y="393" width="1" height="11" fill="#a9dcc3"/>
<rect x="55" y="404" width="3" height="3" fill="#53b987"/>
<rect x="59" y="379" width="1" height="3" fill="#a9dcc3"/>
<rect x="59" y="404" width="1" height="1" fill="#a9dcc3"/>
<rect x="58" y="382" width="3" height="22" fill="#53b987"/>
<rect x="62" y="379" width="1" height="1" fill="#a9dcc3"/>
<rect x="61" y="380" width="3" height="3" fill="#53b987"/>
<rect x="65" y="361" width="1" height="14" fill="#a9dcc3"/>
<rect x="65" y="381" width="1" height="16" fill="#a9dcc3"/>
<rect x="64" y="375" width="3" height="6" fill="#53b987"/>
<rect x="68" y="355" width="1" height="9" fill="#a9dcc3"/>
<rect x="68" y="376" width="1" height="1" fill="#a9dcc3"/>
<rect x="67" y="364" width="3" height="12" fill="#53b987"/>
<rect x="71" y="359" width="1" height="5" fill="#f5a6ae"/>
<rect x="70" y="364" width="3" height="11" fill="#eb4d5c"/>
<rect x="74" y="367" width="1" height="5" fill="#a9dcc3"/>
<rect x="74" y="375" width="1" height="2" fill="#a9dcc3"/>
<rect x="73" y="372" width="3" height="3" fill="#53b987"/>
<rect x="77" y="341" width="1" height="5" fill="#a9dcc3"/>
<rect x="76" y="346" width="3" height="27" fill="#53b987"/>
<rect x="80" y="331" width="1" height="5" fill="#a9dcc3"/>
<rect x="80" y="347" width="1" height="11" fill="#a9dcc3"/>
<rect x="79" y="336" width="3" height="11" fill="#53b987"/>
<rect x="83" y="307" width="1" height="19" fill="#a9dcc3"/>
<rect x="82" y="326" width="3" height="11" fill="#53b987"/>
<rect x="86" y="323" width="1" height="3" fill="#f5a6ae"/>
<rect x="86" y="347" width="1" height="7" fill="#f5a6ae"/>
<rect x="85" y="326" width="3" height="21" fill="#eb4d5c"/>
<rect x="89" y="280" width="1" height="9" fill="#a9dcc3"/>
<rect x="89" y="347" width="1" height="14" fill="#a9dcc3"/>
<rect x="88" y="289" width="3" height="58" fill="#53b987"/>
<rect x="92" y="245" width="1" height="42" fill="#a9dcc3"/>
<rect x="92" y="290" width="1" height="5" fill="#a9dcc3"/>
<rect x="91" y="287" width="3" height="3" fill="#53b987"/>
<rect x="95" y="263" width="1" height="9" fill="#a9dcc3"/>
<rect x="95" y="287" width="1" height="12" fill="#a9dcc3"/>
<rect x="94" y="272" width="3" height="15" fill="#53b987"/>
<rect x="98" y="265" width="1" height="7" fill="#f5a6ae"/>
<rect x="98" y="294" width="1" height="3" fill="#f5a6ae"/>
<rect x="97" y="272" width="3" height="22" fill="#eb4d5c"/>
<rect x="101" y="273" width="1" height="2" fill="#a9dcc3"/>
<rect x="101" y="294" width="1" height="12" fill="#a9dcc3"/>
<rect x="100" y="275" width="3" height="19" fill="#53b987"/>
<rect x="104" y="262" width="1" height="4" fill="#a9dcc3"/>
<rect x="104" y="276" width="1" height="9" fill="#a9dcc3"/>
<rect x="103" y="266" width="3" height="10" fill="#53b987"/>
<rect x="107" y="264" width="1" height="2" fill="#f5a6ae"/>
<rect x="107" y="282" width="1" height="1" fill="#f5a6ae"/>
<rect x="106" y="266" width="3" height="16" fill="#eb4d5c"/>
<rect x="110" y="271" width="1" height="7" fill="#a9dcc3"/>
<rect x="110" y="282" width="1" height="1" fill="#a9dcc3"/>
<rect x="109" y="278" width="3" height="4" fill="#53b987"/>
<rect x="113" y="276" width="1" height="2" fill="#f5a6ae"/>
<rect x="113" y="284" width="1" height="3" fill="#f5a6ae"/>
<rect x="112" y="278" width="3" height="6" fill="#eb4d5c"/>
<rect x="116" y="281" width="1" height="2" fill="#f5a6ae"/>
<rect x="116" y="287" width="1" height="3" fill="#f5a6ae"/>
<rect x="115" y="283" width="3" height="4" fill="#eb4d5c"/>
<rect x="119" y="286" width="1" height="1" fill="#f5a6ae"/>
<rect x="118" y="287" width="3" height="3" fill="#eb4d5c"/>
<rect x="121" y="282" width="3" height="8" fill="#53b987"/>
<rect x="125" y="272" width="1" height="10" fill="#f5a6ae"/>
<rect x="125" y="293" width="1" height="4" fill="#f5a6ae"/>
<rect x="124" y="282" width="3" height="11" fill="#eb4d5c"/>
<rect x="128" y="288" width="1" height="1" fill="#a9dcc3"/>
<rect x="128" y="293" width="1" height="4" fill="#a9dcc3"/>
<rect x="127" y="289" width="3" height="4" fill="#53b987"/>
<rect x="131" y="281" width="1" height="8" fill="#f5a6ae"/>
<rect x="130" y="289" width="3" height="1" fill="#eb4d5c"/>
<rect x="134" y="279" width="1" height="10" fill="#f5a6ae"/>
<rect x="134" y="313" width="1" height="7" fill="#f5a6ae"/>
<rect x="133" y="289" width="3" height="24" fill="#eb4d5c"/>
<rect x="137" y="295" width="1" height="17" fill="#f5a6ae"/>
<rect x="137" y="314" width="1" height="1" fill="#f5a6ae"/>
<rect x="136" y="312" width="3" height="2" fill="#eb4d5c"/>
<rect x="140" y="302" width="1" height="4" fill="#a9dcc3"/>
<rect x="140" y="314" width="1" height="1" fill="#a9dcc3"/>
<rect x="139" y="306" width="3" height="8" fill="#53b987"/>
<rect x="143" y="289" width="1" height="9" fill="#a9dcc3"/>
<rect x="142" y="298" width="3" height="9" fill="#53b987"/>
<rect x="146" y="290" width="1" height="8" fill="#f5a6ae"/>
<rect x="146" y="322" width="1" height="7" fill="#f5a6ae"/>
<rect x="145" y="298" width="3" height="24" fill="#eb4d5c"/>
<rect x="149" y="310" width="1" height="11" fill="#f5a6ae"/>
<rect x="149" y="337" width="1" height="3" fill="#f5a6ae"/>
<rect x="148" y="321" width="3" height="16" fill="#eb4d5c"/>
<rect x="152" y="320" width="1" height="16" fill="#f5a6ae"/>
<rect x="151" y="336" width="3" height="8" fill="#eb4d5c"/>
<rect x="155" y="314" width="1" height="11" fill="#a9dcc3"/>
<rect x="154" y="325" width="3" height="19" fill="#53b987"/>
<rect x="158" y="411" width="1" height="7" fill="#f5a6ae"/>
<rect x="157" y="325" width="3" height="86" fill="#eb4d5c"/>
<rect x="161" y="398" width="1" height="9" fill="#a9dcc3"/>
<rect x="161" y="411" width="1" height="26" fill="#a9dcc3"/>
<rect x="160" y="407" width="3" height="4" fill="#53b987"/>
<rect x="164" y="408" width="1" height="20" fill="#a9dcc3"/>
<rect x="163" y="403" width="3" height="5" fill="#53b987"/>
<rect x="167" y="352" width="1" height="12" fill="#a9dcc3"/>
<rect x="167" y="403" width="1" height="7" fill="#a9dcc3"/>
<rect x="166" y="364" width="3" height="39" fill="#53b987"/>
<rect x="170" y="305" width="1" height="3" fill="#a9dcc3"/>
<rect x="169" y="308" width="3" height="57" fill="#53b987"/>
<rect x="173" y="304" width="1" height="4" fill="#f5a6ae"/>
<rect x="173" y="317" width="1" height="9" fill="#f5a6ae"/>
<rect x="172" y="308" width="3" height="9" fill="#eb4d5c"/>
<rect x="175" y="316" width="3" height="5" fill="#eb4d5c"/>
<rect x="178" y="320" width="3" height="12" fill="#eb4d5c"/>
<rect x="182" y="327" width="1" height="3" fill="#a9dcc3"/>
<rect x="182" y="332" width="1" height="3" fill="#a9dcc3"/>
<rect x="181" y="330" width="3" height="2" fill="#53b987"/>
<rect x="185" y="325" width="1" height="5" fill="#f5a6ae"/>
<rect x="185" y="334" width="1" height="1" fill="#f5a6ae"/>
<rect x="184" y="330" width="3" height="4" fill="#eb4d5c"/>
<rect x="188" y="333" width="1" height="1" fill="#f5a6ae"/>
<rect x="187" y="334" width="3" height="4" fill="#eb4d5c"/>
<rect x="191" y="325" width="1" height="6" fill="#a9dcc3"/>
<rect x="190" y="331" width="3" height="7" fill="#53b987"/>
<rect x="193" y="331" width="3" height="12" fill="#eb4d5c"/>
<rect x="196" y="342" width="3" height="10" fill="#eb4d5c"/>
<rect x="200" y="341" width="1" height="10" fill="#a9dcc3"/>
<rect x="199" y="351" width="3" height="1" fill="#53b987"/>
<rect x="203" y="343" width="1" height="8" fill="#f5a6ae"/>
<rect x="203" y="364" width="1" height="9" fill="#f5a6ae"/>
<rect x="202" y="351" width="3" height="13" fill="#eb4d5c"/>
<rect x="206" y="338" width="1" height="5" fill="#a9dcc3"/>
<rect x="206" y="364" width="1" height="1" fill="#a9dcc3"/>
<rect x="205" y="343" width="3" height="21" fill="#53b987"/>
<rect x="209" y="341" width="1" height="2" fill="#f5a6ae"/>
<rect x="208" y="343" width="3" height="4" fill="#eb4d5c"/>
<rect x="212" y="360" width="1" height="19" fill="#f5a6ae"/>
<rect x="211" y="346" width="3" height="14" fill="#eb4d5c"/>
<rect x="215" y="352" width="1" height="7" fill="#f5a6ae"/>
<rect x="215" y="362" width="1" height="3" fill="#f5a6ae"/>
<rect x="214" y="359" width="3" height="3" fill="#eb4d5c"/>
<rect x="218" y="313" width="1" height="14" fill="#a9dcc3"/>
<rect x="218" y="362" width="1" height="10" fill="#a9dcc3"/>
<rect x="217" y="327" width="3" height="35" fill="#53b987"/>
<rect x="221" y="311" width="1" height="16" fill="#f5a6ae"/>
<rect x="221" y="351" width="1" height="10" fill="#f5a6ae"/>
<rect x="220" y="327" width="3" height="24" fill="#eb4d5c"/>
<rect x="224" y="328" width="1" height="17" fill="#a9dcc3"/>
<rect x="224" y="351" width="1" height="8" fill="#a9dcc3"/>
<rect x="223" y="345" width="3" height="6" fill="#53b987"/>
<rect x="227" y="316" width="1" height="6" fill="#a9dcc3"/>
<rect x="226" y="322" width="3" height="24" fill="#53b987"/>
<rect x="230" y="281" width="1" height="26" fill="#a9dcc3"/>
<rect x="230" y="323" width="1" height="12" fill="#a9dcc3"/>
<rect x="229" y="307" width="3" height="16" fill="#53b987"/>
<rect x="233" y="300" width="1" height="7" fill="#f5a6ae"/>
<rect x="233" y="319" width="1" height="17" fill="#f5a6ae"/>
<rect x="232" y="307" width="3" height="12" fill="#eb4d5c"/>
<rect x="236" y="315" width="1" height="3" fill="#f5a6ae"/>
<rect x="236" y="322" width="1" height="29" fill="#f5a6ae"/>
<rect x="235" y="318" width="3" height="4" fill="#eb4d5c"/>
<rect x="239" y="318" width="1" height="3" fill="#f5a6ae"/>
<rect x="239" y="333" width="1" height="18" fill="#f5a6ae"/>
<rect x="238" y="321" width="3" height="12" fill="#eb4d5c"/>
<rect x="242" y="337" width="1" height="1" fill="#f5a6ae"/>
<rect x="241" y="332" width="3" height="5" fill="#eb4d5c"/>
<rect x="245" y="331" width="1" height="1" fill="#a9dcc3"/>
<rect x="245" y="337" width="1" height="3" fill="#a9dcc3"/>
<rect x="244" y="332" width="3" height="5" fill="#53b987"/>
<rect x="248" y="267" width="1" height="6" fill="#a9dcc3"/>
<rect x="247" y="273" width="3" height="60" fill="#53b987"/>
<rect x="251" y="267" width="1" height="1" fill="#a9dcc3"/>
<rect x="251" y="274" width="1" height="2" fill="#a9dcc3"/>
<rect x="250" y="268" width="3" height="6" fill="#53b987"/>
<rect x="254" y="258" width="1" height="10" fill="#f5a6ae"/>
<rect x="253" y="268" width="3" height="8" fill="#eb4d5c"/>
<rect x="256" y="272" width="3" height="4" fill="#53b987"/>
<rect x="260" y="276" width="1" height="4" fill="#f5a6ae"/>
<rect x="259" y="272" width="3" height="4" fill="#eb4d5c"/>
<rect x="263" y="273" width="1" height="3" fill="#f5a6ae"/>
<rect x="263" y="279" width="1" height="4" fill="#f5a6ae"/>
<rect x="262" y="276" width="3" height="3" fill="#eb4d5c"/>
<rect x="266" y="269" width="1" height="7" fill="#a9dcc3"/>
<rect x="265" y="276" width="3" height="3" fill="#53b987"/>
<rect x="269" y="273" width="1" height="3" fill="#f5a6ae"/>
<rect x="268" y="276" width="3" height="2" fill="#eb4d5c"/>
<rect x="272" y="273" width="1" height="2" fill="#a9dcc3"/>
<rect x="272" y="278" width="1" height="18" fill="#a9dcc3"/>
<rect x="271" y="275" width="3" height="3" fill="#53b987"/>
<rect x="275" y="274" width="1" height="1" fill="#f5a6ae"/>
<rect x="275" y="277" width="1" height="11" fill="#f5a6ae"/>
<rect x="274" y="275" width="3" height="2" fill="#eb4d5c"/>
<rect x="278" y="274" width="1" height="2" fill="#f5a6ae"/>
<rect x="277" y="276" width="3" height="11" fill="#eb4d5c"/>
<rect x="280" y="286" width="3" height="18" fill="#eb4d5c"/>
<rect x="284" y="317" width="1" height="9" fill="#f5a6ae"/>
<rect x="283" y="303" width="3" height="14" fill="#eb4d5c"/>
<rect x="286" y="309" width="3" height="8" fill="#53b987"/>
<rect x="290" y="281" width="1" height="20" fill="#a9dcc3"/>
<rect x="290" y="310" width="1" height="3" fill="#a9dcc3"/>
<rect x="289" y="301" width="3" height="9" fill="#53b987"/>
<rect x="293" y="296" width="1" height="5" fill="#f5a6ae"/>
<rect x="293" y="340" width="1" height="28" fill="#f5a6ae"/>
<rect x="292" y="301" width="3" height="39" fill="#eb4d5c"/>
<rect x="296" y="306" width="1" height="1" fill="#a9dcc3"/>
<rect x="296" y="340" width="1" height="3" fill="#a9dcc3"/>
<rect x="295" y="307" width="3" height="33" fill="#53b987"/>
<rect x="299" y="296" width="1" height="11" fill="#f5a6ae"/>
<rect x="299" y="317" width="1" height="14" fill="#f5a6ae"/>
<rect x="298" y="307" width="3" height="10" fill="#eb4d5c"/>
<rect x="302" y="295" width="1" height="4" fill="#a9dcc3"/>
<rect x="301" y="299" width="3" height="18" fill="#53b987"/>
<rect x="305" y="279" width="1" height="17" fill="#a9dcc3"/>
<rect x="305" y="300" width="1" height="1" fill="#a9dcc3"/>
<rect x="304" y="296" width="3" height="4" fill="#53b987"/>
<rect x="308" y="294" width="1" height="2" fill="#a9dcc3"/>
<rect x="308" y="297" width="1" height="11" fill="#a9dcc3"/>
<rect x="307" y="296" width="3" height="1" fill="#53b987"/>
<rect x="310" y="282" width="3" height="15" fill="#53b987"/>
<rect x="314" y="273" width="1" height="4" fill="#a9dcc3"/>
<rect x="313" y="277" width="3" height="6" fill="#53b987"/>
<rect x="317" y="264" width="1" height="9" fill="#a9dcc3"/>
<rect x="316" y="273" width="3" height="5" fill="#53b987"/>
<rect x="320" y="269" width="1" height="3" fill="#a9dcc3"/>
<rect x="319" y="272" width="3" height="2" fill="#53b987"/>
<rect x="323" y="268" width="1" height="4" fill="#a9dcc3"/>
<rect x="323" y="273" width="1" height="1" fill="#a9dcc3"/>
<rect x="322" y="272" width="3" height="1" fill="#53b987"/>
<rect x="326" y="265" width="1" height="1" fill="#a9dcc3"/>
<rect x="325" y="266" width="3" height="6" fill="#53b987"/>
<rect x="329" y="262" width="1" height="1" fill="#a9dcc3"/>
<rect x="328" y="263" width="3" height="4" fill="#53b987"/>
<rect x="332" y="262" width="1" height="1" fill="#f5a6ae"/>
<rect x="331" y="263" width="3" height="1" fill="#eb4d5c"/>
<rect x="334" y="263" width="3" height="8" fill="#eb4d5c"/>
<rect x="338" y="266" width="1" height="4" fill="#f5a6ae"/>
<rect x="337" y="270" width="3" height="3" fill="#eb4d5c"/>
<rect x="341" y="241" width="1" height="12" fill="#a9dcc3"/>
<rect x="341" y="273" width="1" height="1" fill="#a9dcc3"/>
<rect x="340" y="253" width="3" height="20" fill="#53b987"/>
<rect x="344" y="241" width="1" height="3" fill="#a9dcc3"/>
<rect x="344" y="254" width="1" height="2" fill="#a9dcc3"/>
<rect x="343" y="244" width="3" height="10" fill="#53b987"/>
<rect x="347" y="243" width="1" height="1" fill="#f5a6ae"/>
<rect x="347" y="247" width="1" height="5" fill="#f5a6ae"/>
<rect x="346" y="244" width="3" height="3" fill="#eb4d5c"/>
<rect x="350" y="212" width="1" height="14" fill="#a9dcc3"/>
<rect x="350" y="247" width="1" height="1" fill="#a9dcc3"/>
<rect x="349" y="226" width="3" height="21" fill="#53b987"/>
<rect x="353" y="216" width="1" height="10" fill="#f5a6ae"/>
<rect x="352" y="226" width="3" height="7" fill="#eb4d5c"/>
<rect x="356" y="221" width="1" height="2" fill="#a9dcc3"/>
<rect x="356" y="233" width="1" height="2" fill="#a9dcc3"/>
<rect x="355" y="223" width="3" height="10" fill="#53b987"/>
<rect x="359" y="205" width="1" height="2" fill="#a9dcc3"/>
<rect x="359" y="224" width="1" height="12" fill="#a9dcc3"/>
<rect x="358" y="207" width="3" height="17" fill="#53b987"/>
<rect x="362" y="178" width="1" height="29" fill="#f5a6ae"/>
<rect x="362" y="211" width="1" height="6" fill="#f5a6ae"/>
<rect x="361" y="207" width="3" height="4" fill="#eb4d5c"/>
<rect x="365" y="198" width="1" height="4" fill="#a9dcc3"/>
<rect x="365" y="211" width="1" height="3" fill="#a9dcc3"/>
<rect x="364" y="202" width="3" height="9" fill="#53b987"/>
<rect x="368" y="187" width="1" height="11" fill="#a9dcc3"/>
<rect x="368" y="203" width="1" height="11" fill="#a9dcc3"/>
<rect x="367" y="198" width="3" height="5" fill="#53b987"/>
<rect x="371" y="184" width="1" height="9" fill="#a9dcc3"/>
<rect x="370" y="193" width="3" height="6" fill="#53b987"/>
<rect x="374" y="188" width="1" height="5" fill="#f5a6ae"/>
<rect x="374" y="198" width="1" height="7" fill="#f5a6ae"/>
<rect x="373" y="193" width="3" height="5" fill="#eb4d5c"/>
<rect x="377" y="198" width="1" height="4" fill="#a9dcc3"/>
<rect x="376" y="152" width="3" height="46" fill="#53b987"/>
<rect x="380" y="105" width="1" height="47" fill="#f5a6ae"/>
<rect x="380" y="162" width="1" height="1" fill="#f5a6ae"/>
<rect x="379" y="152" width="3" height="10" fill="#eb4d5c"/>
<rect x="383" y="136" width="1" height="5" fill="#a9dcc3"/>
<rect x="383" y="162" width="1" height="1" fill="#a9dcc3"/>
<rect x="382" y="141" width="3" height="21" fill="#53b987"/>
<rect x="386" y="140" width="1" height="1" fill="#f5a6ae"/>
<rect x="386" y="148" width="1" height="2" fill="#f5a6ae"/>
<rect x="385" y="141" width="3" height="7" fill="#eb4d5c"/>
<rect x="389" y="156" width="1" height="6" fill="#f5a6ae"/>
<rect x="388" y="147" width="3" height="9" fill="#eb4d5c"/>
<rect x="392" y="162" width="1" height="3" fill="#f5a6ae"/>
<rect x="391" y="155" width="3" height="7" fill="#eb4d5c"/>
<rect x="395" y="162" width="1" height="4" fill="#a9dcc3"/>
<rect x="394" y="160" width="3" height="2" fill="#53b987"/>
<rect x="398" y="151" width="1" height="8" fill="#a9dcc3"/>
<rect x="398" y="161" width="1" height="1" fill="#a9dcc3"/>
<rect x="397" y="159" width="3" height="2" fill="#53b987"/>
<rect x="401" y="143" width="1" height="14" fill="#a9dcc3"/>
<rect x="400" y="157" width="3" height="3" fill="#53b987"/>
<rect x="404" y="140" width="1" height="6" fill="#a9dcc3"/>
<rect x="404" y="158" width="1" height="1" fill="#a9dcc3"/>
<rect x="403" y="146" width="3" height="12" fill="#53b987"/>
<rect x="407" y="139" width="1" height="6" fill="#a9dcc3"/>
<rect x="407" y="147" width="1" height="5" fill="#a9dcc3"/>
<rect x="406" y="145" width="3" height="2" fill="#53b987"/>
<rect x="410" y="108" width="1" height="12" fill="#a9dcc3"/>
<rect x="410" y="146" width="1" height="4" fill="#a9dcc3"/>
<rect x="409" y="120" width="3" height="26" fill="#53b987"/>
<rect x="413" y="115" width="1" height="3" fill="#a9dcc3"/>
<rect x="413" y="121" width="1" height="6" fill="#a9dcc3"/>
<rect x="412" y="118" width="3" height="3" fill="#53b987"/>
<rect x="416" y="117" width="1" height="1" fill="#f5a6ae"/>
<rect x="416" y="145" width="1" height="18" fill="#f5a6ae"/>
<rect x="415" y="118" width="3" height="27" fill="#eb4d5c"/>
<rect x="419" y="124" width="1" height="11" fill="#a9dcc3"/>
<rect x="419" y="145" width="1" height="9" fill="#a9dcc3"/>
<rect x="418" y="135" width="3" height="10" fill="#53b987"/>
<rect x="422" y="132" width="1" height="2" fill="#a9dcc3"/>
<rect x="422" y="136" width="1" height="7" fill="#a9dcc3"/>
<rect x="421" y="134" width="3" height="2" fill="#53b987"/>
<rect x="425" y="113" width="1" height="13" fill="#a9dcc3"/>
<rect x="424" y="126" width="3" height="9" fill="#53b987"/>
<rect x="428" y="111" width="1" height="15" fill="#f5a6ae"/>
<rect x="428" y="130" width="1" height="8" fill="#f5a6ae"/>
<rect x="427" y="126" width="3" height="4" fill="#eb4d5c"/>
<rect x="431" y="117" width="1" height="1" fill="#a9dcc3"/>
<rect x="431" y="130" width="1" height="38" fill="#a9dcc3"/>
<rect x="430" y="118" width="3" height="12" fill="#53b987"/>
<rect x="434" y="109" width="1" height="9" fill="#f5a6ae"/>
<rect x="434" y="123" width="1" height="7" fill="#f5a6ae"/>
<rect x="433" y="118" width="3" height="5" fill="#eb4d5c"/>
<rect x="437" y="115" width="1" height="7" fill="#f5a6ae"/>
<rect x="437" y="133" width="1" height="5" fill="#f5a6ae"/>
<rect x="436" y="122" width="3" height="11" fill="#eb4d5c"/>
<rect x="440" y="189" width="1" height="6" fill="#f5a6ae"/>
<rect x="439" y="132" width="3" height="57" fill="#eb4d5c"/>
<rect x="443" y="160" width="1" height="6" fill="#a9dcc3"/>
<rect x="443" y="189" width="1" height="1" fill="#a9dcc3"/>
<rect x="442" y="166" width="3" height="23" fill="#53b987"/>
<rect x="446" y="145" width="1" height="21" fill="#f5a6ae"/>
<rect x="446" y="207" width="1" height="5" fill="#f5a6ae"/>
<rect x="445" y="166" width="3" height="41" fill="#eb4d5c"/>
<rect x="449" y="207" width="1" height="7" fill="#a9dcc3"/>
<rect x="448" y="192" width="3" height="15" fill="#53b987"/>
<rect x="452" y="193" width="1" height="7" fill="#a9dcc3"/>
<rect x="451" y="191" width="3" height="2" fill="#53b987"/>
<rect x="455" y="168" width="1" height="17" fill="#a9dcc3"/>
<rect x="454" y="185" width="3" height="7" fill="#53b987"/>
<rect x="458" y="178" width="1" height="1" fill="#a9dcc3"/>
<rect x="457" y="179" width="3" height="7" fill="#53b987"/>
<rect x="461" y="176" width="1" height="2" fill="#a9dcc3"/>
<rect x="461" y="180" width="1" height="3" fill="#a9dcc3"/>
<rect x="460" y="178" width="3" height="2" fill="#53b987"/>
<rect x="464" y="177" width="1" height="1" fill="#f5a6ae"/>
<rect x="464" y="180" width="1" height="2" fill="#f5a6ae"/>
<rect x="463" y="178" width="3" height="2" fill="#eb4d5c"/>
<rect x="466" y="179" width="3" height="1" fill="#eb4d5c"/>
<rect x="469" y="179" width="3" height="10" fill="#eb4d5c"/>
<rect x="473" y="148" width="1" height="3" fill="#a9dcc3"/>
<rect x="472" y="151" width="3" height="38" fill="#53b987"/>
<rect x="476" y="156" width="1" height="11" fill="#f5a6ae"/>
<rect x="475" y="151" width="3" height="5" fill="#eb4d5c"/>
<rect x="479" y="96" width="1" height="9" fill="#a9dcc3"/>
<rect x="479" y="156" width="1" height="31" fill="#a9dcc3"/>
<rect x="478" y="105" width="3" height="51" fill="#53b987"/>
<rect x="482" y="92" width="1" height="13" fill="#f5a6ae"/>
<rect x="482" y="111" width="1" height="11" fill="#f5a6ae"/>
<rect x="481" y="105" width="3" height="6" fill="#eb4d5c"/>
<rect x="485" y="102" width="1" height="5" fill="#a9dcc3"/>
<rect x="485" y="111" width="1" height="8" fill="#a9dcc3"/>
<rect x="484" y="107" width="3" height="4" fill="#53b987"/>
<rect x="488" y="89" width="1" height="9" fill="#a9dcc3"/>
<rect x="487" y="98" width="3" height="10" fill="#53b987"/>
<rect x="491" y="123" width="1" height="6" fill="#f5a6ae"/>
<rect x="490" y="98" width="3" height="25" fill="#eb4d5c"/>
<rect x="494" y="116" width="1" height="6" fill="#a9dcc3"/>
<rect x="494" y="123" width="1" height="20" fill="#a9dcc3"/>
<rect x="493" y="122" width="3" height="1" fill="#53b987"/>
<rect x="497" y="93" width="1" height="19" fill="#a9dcc3"/>
<rect x="496" y="112" width="3" height="11" fill="#53b987"/>
<rect x="500" y="107" width="1" height="5" fill="#f5a6ae"/>
<rect x="500" y="129" width="1" height="12" fill="#f5a6ae"/>
<rect x="499" y="112" width="3" height="17" fill="#eb4d5c"/>
<rect x="503" y="104" width="1" height="24" fill="#f5a6ae"/>
<rect x="503" y="137" width="1" height="29" fill="#f5a6ae"/>
<rect x="502" y="128" width="3" height="9" fill="#eb4d5c"/>
<rect x="506" y="84" width="1" height="12" fill="#a9dcc3"/>
<rect x="505" y="96" width="3" height="41" fill="#53b987"/>
<rect x="509" y="82" width="1" height="14" fill="#f5a6ae"/>
<rect x="509" y="101" width="1" height="3" fill="#f5a6ae"/>
<rect x="508" y="96" width="3" height="5" fill="#eb4d5c"/>
<rect x="512" y="137" width="1" height="4" fill="#f5a6ae"/>
<rect x="511" y="100" width="3" height="37" fill="#eb4d5c"/>
<rect x="515" y="127" width="1" height="9" fill="#f5a6ae"/>
<rect x="515" y="156" width="1" height="16" fill="#f5a6ae"/>
<rect x="514" y="136" width="3" height="20" fill="#eb4d5c"/>
<rect x="518" y="135" width="1" height="13" fill="#a9dcc3"/>
<rect x="518" y="156" width="1" height="7" fill="#a9dcc3"/>
<rect x="517" y="148" width="3" height="8" fill="#53b987"/>
<rect x="521" y="144" width="1" height="4" fill="#f5a6ae"/>
<rect x="521" y="153" width="1" height="3" fill="#f5a6ae"/>
<rect x="520" y="148" width="3" height="5" fill="#eb4d5c"/>
<rect x="524" y="135" width="1" height="12" fill="#a9dcc3"/>
<rect x="523" y="147" width="3" height="6" fill="#53b987"/>
<rect x="527" y="141" width="1" height="6" fill="#f5a6ae"/>
<rect x="526" y="147" width="3" height="7" fill="#eb4d5c"/>
<rect x="530" y="138" width="1" height="7" fill="#a9dcc3"/>
<rect x="529" y="145" width="3" height="9" fill="#53b987"/>
<rect x="533" y="141" width="1" height="4" fill="#f5a6ae"/>
<rect x="532" y="145" width="3" height="4" fill="#eb4d5c"/>
<rect x="536" y="140" width="1" height="2" fill="#a9dcc3"/>
<rect x="535" y="142" width="3" height="7" fill="#53b987"/>
<rect x="539" y="141" width="1" height="1" fill="#f5a6ae"/>
<rect x="538" y="142" width="3" height="7" fill="#eb4d5c"/>
<rect x="542" y="143" width="1" height="5" fill="#f5a6ae"/>
<rect x="542" y="161" width="1" height="18" fill="#f5a6ae"/>
<rect x="541" y="148" width="3" height="13" fill="#eb4d5c"/>
<rect x="545" y="133" width="1" height="5" fill="#a9dcc3"/>
<rect x="544" y="138" width="3" height="23" fill="#53b987"/>
<rect x="548" y="120" width="1" height="10" fill="#a9dcc3"/>
<rect x="548" y="139" width="1" height="25" fill="#a9dcc3"/>
<rect x="547" y="130" width="3" height="9" fill="#53b987"/>
<rect x="551" y="120" width="1" height="1" fill="#a9dcc3"/>
<rect x="551" y="131" width="1" height="1" fill="#a9dcc3"/>
<rect x="550" y="121" width="3" height="10" fill="#53b987"/>
<rect x="554" y="114" width="1" height="2" fill="#a9dcc3"/>
<rect x="554" y="122" width="1" height="7" fill="#a9dcc3"/>
<rect x="553" y="116" width="3" height="6" fill="#53b987"/>
<rect x="557" y="122" width="1" height="9" fill="#f5a6ae"/>
<rect x="556" y="116" width="3" height="6" fill="#eb4d5c"/>
<rect x="560" y="112" width="1" height="3" fill="#a9dcc3"/>
<rect x="560" y="122" width="1" height="7" fill="#a9dcc3"/>
<rect x="559" y="115" width="3" height="7" fill="#53b987"/>
<rect x="563" y="128" width="1" height="1" fill="#f5a6ae"/>
<rect x="562" y="115" width="3" height="13" fill="#eb4d5c"/>
<rect x="566" y="101" width="1" height="25" fill="#a9dcc3"/>
<rect x="566" y="128" width="1" height="3" fill="#a9dcc3"/>
<rect x="565" y="126" width="3" height="2" fill="#53b987"/>
<rect x="569" y="75" width="1" height="2" fill="#a9dcc3"/>
<rect x="568" y="77" width="3" height="50" fill="#53b987"/>
<rect x="572" y="69" width="1" height="7" fill="#a9dcc3"/>
<rect x="572" y="78" width="1" height="15" fill="#a9dcc3"/>
<rect x="571" y="76" width="3" height="2" fill="#53b987"/>
<rect x="575" y="65" width="1" height="8" fill="#a9dcc3"/>
<rect x="575" y="77" width="1" height="1" fill="#a9dcc3"/>
<rect x="574" y="73" width="3" height="4" fill="#53b987"/>
<rect x="578" y="64" width="1" height="9" fill="#f5a6ae"/>
<rect x="577" y="73" width="3" height="12" fill="#eb4d5c"/>
<rect x="581" y="64" width="1" height="11" fill="#a9dcc3"/>
<rect x="580" y="75" width="3" height="10" fill="#53b987"/>
<rect x="584" y="72" width="1" height="3" fill="#f5a6ae"/>
<rect x="584" y="89" width="1" height="3" fill="#f5a6ae"/>
<rect x="583" y="75" width="3" height="14" fill="#eb4d5c"/>
<rect x="587" y="82" width="1" height="6" fill="#f5a6ae"/>
<rect x="587" y="89" width="1" height="4" fill="#f5a6ae"/>
<rect x="586" y="88" width="3" height="1" fill="#eb4d5c"/>
<rect x="590" y="84" width="1" height="4" fill="#f5a6ae"/>
<rect x="589" y="88" width="3" height="6" fill="#eb4d5c"/>
<rect x="593" y="207" width="1" height="23" fill="#f5a6ae"/>
<rect x="592" y="93" width="3" height="114" fill="#eb4d5c"/>
<rect x="596" y="207" width="1" height="5" fill="#a9dcc3"/>
<rect x="595" y="193" width="3" height="14" fill="#53b987"/>
<rect x="599" y="194" width="1" height="2" fill="#a9dcc3"/>
<rect x="598" y="184" width="3" height="10" fill="#53b987"/>
<rect x="602" y="191" width="1" height="5" fill="#f5a6ae"/>
<rect x="601" y="184" width="3" height="7" fill="#eb4d5c"/>
<rect x="605" y="193" width="1" height="4" fill="#f5a6ae"/>
<rect x="604" y="190" width="3" height="3" fill="#eb4d5c"/>
<rect x="608" y="186" width="1" height="6" fill="#a9dcc3"/>
<rect x="608" y="193" width="1" height="4" fill="#a9dcc3"/>
<rect x="607" y="192" width="3" height="1" fill="#53b987"/>
<rect x="611" y="190" width="1" height="2" fill="#f5a6ae"/>
<rect x="610" y="192" width="3" height="4" fill="#eb4d5c"/>
<rect x="614" y="180" width="1" height="5" fill="#a9dcc3"/>
<rect x="614" y="196" width="1" height="14" fill="#a9dcc3"/>
<rect x="613" y="185" width="3" height="11" fill="#53b987"/>
<rect x="617" y="152" width="1" height="1" fill="#a9dcc3"/>
<rect x="616" y="153" width="3" height="33" fill="#53b987"/>
<rect x="620" y="191" width="1" height="7" fill="#f5a6ae"/>
<rect x="619" y="153" width="3" height="38" fill="#eb4d5c"/>
<rect x="623" y="171" width="1" height="7" fill="#a9dcc3"/>
<rect x="623" y="191" width="1" height="1" fill="#a9dcc3"/>
<rect x="622" y="178" width="3" height="13" fill="#53b987"/>
<rect x="626" y="168" width="1" height="5" fill="#a9dcc3"/>
<rect x="626" y="179" width="1" height="8" fill="#a9dcc3"/>
<rect x="625" y="173" width="3" height="6" fill="#53b987"/>
<rect x="629" y="166" width="1" height="7" fill="#f5a6ae"/>
<rect x="628" y="173" width="3" height="19" fill="#eb4d5c"/>
<rect x="632" y="179" width="1" height="11" fill="#a9dcc3"/>
<rect x="632" y="192" width="1" height="7" fill="#a9dcc3"/>
<rect x="631" y="190" width="3" height="2" fill="#53b987"/>
<rect x="635" y="179" width="1" height="11" fill="#f5a6ae"/>
<rect x="635" y="207" width="1" height="31" fill="#f5a6ae"/>
<rect x="634" y="190" width="3" height="17" fill="#eb4d5c"/>
<rect x="638" y="139" width="1" height="9" fill="#a9dcc3"/>
<rect x="638" y="207" width="1" height="7" fill="#a9dcc3"/>
<rect x="637" y="148" width="3" height="59" fill="#53b987"/>
<rect x="641" y="156" width="1" height="19" fill="#f5a6ae"/>
<rect x="640" y="148" width="3" height="8" fill="#eb4d5c"/>
<rect x="643" y="120" width="3" height="36" fill="#53b987"/>
<rect x="647" y="102" width="1" height="14" fill="#a9dcc3"/>
<rect x="646" y="116" width="3" height="5" fill="#53b987"/>
<rect x="650" y="99" width="1" height="17" fill="#f5a6ae"/>
<rect x="650" y="130" width="1" height="1" fill="#f5a6ae"/>
<rect x="649" y="116" width="3" height="14" fill="#eb4d5c"/>
<rect x="653" y="106" width="1" height="21" fill="#a9dcc3"/>
<rect x="653" y="130" width="1" height="8" fill="#a9dcc3"/>
<rect x="652" y="127" width="3" height="3" fill="#53b987"/>
<rect x="655" y="107" width="3" height="21" fill="#53b987"/>
<rect x="659" y="99" width="1" height="3" fill="#a9dcc3"/>
<rect x="658" y="102" width="3" height="6" fill="#53b987"/>
<rect x="662" y="95" width="1" height="6" fill="#a9dcc3"/>
<rect x="661" y="101" width="3" height="2" fill="#53b987"/>
<rect x="665" y="100" width="1" height="1" fill="#f5a6ae"/>
<rect x="664" y="101" width="3" height="4" fill="#eb4d5c"/>
<rect x="668" y="103" width="1" height="1" fill="#f5a6ae"/>
<rect x="668" y="106" width="1" height="3" fill="#f5a6ae"/>
<rect x="667" y="104" width="3" height="2" fill="#eb4d5c"/>
<rect x="670" y="105" width="3" height="8" fill="#eb4d5c"/>
<rect x="674" y="110" width="1" height="2" fill="#f5a6ae"/>
<rect x="673" y="112" width="3" height="5" fill="#eb4d5c"/>
<rect x="677" y="111" width="1" height="1" fill="#a9dcc3"/>
<rect x="676" y="112" width="3" height="5" fill="#53b987"/>
<rect x="680" y="64" width="1" height="13" fill="#a9dcc3"/>
<rect x="679" y="77" width="3" height="36" fill="#53b987"/>
<rect x="683" y="76" width="1" height="1" fill="#f5a6ae"/>
<rect x="683" y="83" width="1" height="1" fill="#f5a6ae"/>
<rect x="682" y="77" width="3" height="6" fill="#eb4d5c"/>
<rect x="686" y="53" width="1" height="11" fill="#a9dcc3"/>
<rect x="685" y="64" width="3" height="19" fill="#53b987"/>
<rect x="689" y="63" width="1" height="1" fill="#f5a6ae"/>
<rect x="688" y="64" width="3" height="7" fill="#eb4d5c"/>
<rect x="692" y="80" width="1" height="12" fill="#f5a6ae"/>
<rect x="691" y="70" width="3" height="10" fill="#eb4d5c"/>
<rect x="695" y="112" width="1" height="8" fill="#f5a6ae"/>
<rect x="694" y="79" width="3" height="33" fill="#eb4d5c"/>
<rect x="698" y="75" width="1" height="3" fill="#a9dcc3"/>
<rect x="698" y="112" width="1" height="4" fill="#a9dcc3"/>
<rect x="697" y="78" width="3" height="34" fill="#53b987"/>
<rect x="701" y="68" width="1" height="2" fill="#a9dcc3"/>
<rect x="701" y="78" width="1" height="5" fill="#a9dcc3"/>
<rect x="700" y="70" width="3" height="8" fill="#53b987"/>
<rect x="704" y="37" width="1" height="22" fill="#a9dcc3"/>
<rect x="703" y="59" width="3" height="12" fill="#53b987"/>
<rect x="707" y="50" width="1" height="9" fill="#f5a6ae"/>
<rect x="707" y="78" width="1" height="12" fill="#f5a6ae"/>
<rect x="706" y="59" width="3" height="19" fill="#eb4d5c"/>
<rect x="710" y="57" width="1" height="8" fill="#a9dcc3"/>
<rect x="709" y="65" width="3" height="13" fill="#53b987"/>
<rect x="713" y="62" width="1" height="3" fill="#f5a6ae"/>
<rect x="713" y="90" width="1" height="14" fill="#f5a6ae"/>
<rect x="712" y="65" width="3" height="25" fill="#eb4d5c"/>
<rect x="716" y="47" width="1" height="3" fill="#a9dcc3"/>
<rect x="716" y="90" width="1" height="3" fill="#a9dcc3"/>
<rect x="715" y="50" width="3" height="40" fill="#53b987"/>
<rect x="719" y="71" width="1" height="15" fill="#f5a6ae"/>
<rect x="718" y="50" width="3" height="21" fill="#eb4d5c"/>
<rect x="722" y="64" width="1" height="6" fill="#f5a6ae"/>
<rect x="721" y="70" width="3" height="54" fill="#eb4d5c"/>
<rect x="725" y="114" width="1" height="7" fill="#a9dcc3"/>
<rect x="725" y="124" width="1" height="6" fill="#a9dcc3"/>
<rect x="724" y="121" width="3" height="3" fill="#53b987"/>
<rect x="727" y="121" width="3" height="10" fill="#eb4d5c"/>
<rect x="731" y="120" width="1" height="2" fill="#a9dcc3"/>
<rect x="730" y="122" width="3" height="9" fill="#53b987"/>
<rect x="734" y="121" width="1" height="1" fill="#f5a6ae"/>
<rect x="733" y="122" width="3" height="7" fill="#eb4d5c"/>
<rect x="737" y="145" width="1" height="9" fill="#f5a6ae"/>
<rect x="736" y="128" width="3" height="17" fill="#eb4d5c"/>
<rect x="740" y="135" width="1" height="7" fill="#a9dcc3"/>
<rect x="740" y="145" width="1" height="2" fill="#a9dcc3"/>
<rect x="739" y="142" width="3" height="3" fill="#53b987"/>
<rect x="743" y="114" width="1" height="14" fill="#a9dcc3"/>
<rect x="743" y="143" width="1" height="4" fill="#a9dcc3"/>
<rect x="742" y="128" width="3" height="15" fill="#53b987"/>
<rect x="745" y="128" width="3" height="5" fill="#eb4d5c"/>
<rect x="749" y="172" width="1" height="18" fill="#f5a6ae"/>
<rect x="748" y="132" width="3" height="40" fill="#eb4d5c"/>
<rect x="752" y="165" width="1" height="6" fill="#f5a6ae"/>
<rect x="752" y="178" width="1" height="8" fill="#f5a6ae"/>
<rect x="751" y="171" width="3" height="7" fill="#eb4d5c"/>
<rect x="755" y="163" width="1" height="14" fill="#f5a6ae"/>
<rect x="755" y="228" width="1" height="2" fill="#f5a6ae"/>
<rect x="754" y="177" width="3" height="51" fill="#eb4d5c"/>
<rect x="758" y="218" width="1" height="9" fill="#f5a6ae"/>
<rect x="758" y="233" width="1" height="6" fill="#f5a6ae"/>
<rect x="757" y="227" width="3" height="6" fill="#eb4d5c"/>
<rect x="761" y="233" width="1" height="8" fill="#a9dcc3"/>
<rect x="760" y="228" width="3" height="5" fill="#53b987"/>
<rect x="764" y="246" width="1" height="4" fill="#f5a6ae"/>
<rect x="763" y="228" width="3" height="18" fill="#eb4d5c"/>
<rect x="767" y="241" width="1" height="4" fill="#f5a6ae"/>
<rect x="767" y="253" width="1" height="16" fill="#f5a6ae"/>
<rect x="766" y="245" width="3" height="8" fill="#eb4d5c"/>
<rect x="770" y="242" width="1" height="3" fill="#a9dcc3"/>
<rect x="770" y="253" width="1" height="3" fill="#a9dcc3"/>
<rect x="769" y="245" width="3" height="8" fill="#53b987"/>
<rect x="773" y="218" width="1" height="13" fill="#a9dcc3"/>
<rect x="773" y="246" width="1" height="5" fill="#a9dcc3"/>
<rect x="772" y="231" width="3" height="15" fill="#53b987"/>
<rect x="776" y="223" width="1" height="8" fill="#f5a6ae"/>
<rect x="776" y="280" width="1" height="16" fill="#f5a6ae"/>
<rect x="775" y="231" width="3" height="49" fill="#eb4d5c"/>
<rect x="779" y="258" width="1" height="16" fill="#a9dcc3"/>
<rect x="779" y="280" width="1" height="7" fill="#a9dcc3"/>
<rect x="778" y="274" width="3" height="6" fill="#53b987"/>
<rect x="782" y="269" width="1" height="5" fill="#f5a6ae"/>
<rect x="782" y="321" width="1" height="9" fill="#f5a6ae"/>
<rect x="781" y="274" width="3" height="47" fill="#eb4d5c"/>
<rect x="785" y="304" width="1" height="5" fill="#a9dcc3"/>
<rect x="785" y="321" width="1" height="3" fill="#a9dcc3"/>
<rect x="784" y="309" width="3" height="12" fill="#53b987"/>
<rect x="788" y="299" width="1" height="10" fill="#f5a6ae"/>
<rect x="787" y="309" width="3" height="7" fill="#eb4d5c"/>
<rect x="791" y="292" width="1" height="23" fill="#f5a6ae"/>
<rect x="790" y="315" width="3" height="10" fill="#eb4d5c"/>
<rect x="794" y="320" width="1" height="4" fill="#f5a6ae"/>
<rect x="794" y="325" width="1" height="4" fill="#f5a6ae"/>
<rect x="793" y="324" width="3" height="1" fill="#eb4d5c"/>
<rect x="797" y="337" width="1" height="6" fill="#f5a6ae"/>
<rect x="796" y="324" width="3" height="13" fill="#eb4d5c"/>
<rect x="800" y="324" width="1" height="12" fill="#f5a6ae"/>
<rect x="800" y="337" width="1" height="3" fill="#f5a6ae"/>
<rect x="799" y="336" width="3" height="1" fill="#eb4d5c"/>
<rect x="803" y="324" width="1" height="10" fill="#a9dcc3"/>
<rect x="803" y="337" width="1" height="2" fill="#a9dcc3"/>
<rect x="802" y="334" width="3" height="3" fill="#53b987"/>
<rect x="805" y="327" width="3" height="8" fill="#53b987"/>
<rect x="809" y="321" width="1" height="4" fill="#a9dcc3"/>
<rect x="808" y="325" width="3" height="3" fill="#53b987"/>
<rect x="812" y="320" width="1" height="2" fill="#a9dcc3"/>
<rect x="811" y="322" width="3" height="4" fill="#53b987"/>
<rect x="815" y="318" width="1" height="4" fill="#f5a6ae"/>
<rect x="814" y="322" width="3" height="14" fill="#eb4d5c"/>
<rect x="818" y="338" width="1" height="16" fill="#f5a6ae"/>
<rect x="817" y="335" width="3" height="3" fill="#eb4d5c"/>
<rect x="821" y="325" width="1" height="4" fill="#a9dcc3"/>
<rect x="821" y="338" width="1" height="3" fill="#a9dcc3"/>
<rect x="820" y="329" width="3" height="9" fill="#53b987"/>
<rect x="824" y="321" width="1" height="8" fill="#f5a6ae"/>
<rect x="823" y="329" width="3" height="29" fill="#eb4d5c"/>
<rect x="827" y="347" width="1" height="10" fill="#a9dcc3"/>
<rect x="827" y="358" width="1" height="7" fill="#a9dcc3"/>
<rect x="826" y="357" width="3" height="1" fill="#53b987"/>
<rect x="830" y="354" width="1" height="3" fill="#f5a6ae"/>
<rect x="829" y="357" width="3" height="3" fill="#eb4d5c"/>
<rect x="833" y="346" width="1" height="13" fill="#f5a6ae"/>
<rect x="832" y="359" width="3" height="9" fill="#eb4d5c"/>
<rect x="836" y="361" width="1" height="6" fill="#f5a6ae"/>
<rect x="836" y="368" width="1" height="2" fill="#f5a6ae"/>
<rect x="835" y="367" width="3" height="1" fill="#eb4d5c"/>
<rect x="839" y="353" width="1" height="14" fill="#f5a6ae"/>
<rect x="838" y="367" width="3" height="24" fill="#eb4d5c"/>
<rect x="842" y="374" width="1" height="12" fill="#a9dcc3"/>
<rect x="842" y="391" width="1" height="9" fill="#a9dcc3"/>
<rect x="841" y="386" width="3" height="5" fill="#53b987"/>
<rect x="845" y="371" width="1" height="10" fill="#a9dcc3"/>
<rect x="845" y="387" width="1" height="8" fill="#a9dcc3"/>
<rect x="844" y="381" width="3" height="6" fill="#53b987"/>
<rect x="848" y="425" width="1" height="20" fill="#f5a6ae"/>
<rect x="847" y="381" width="3" height="44" fill="#eb4d5c"/>
<rect x="851" y="418" width="1" height="6" fill="#f5a6ae"/>
<rect x="851" y="450" width="1" height="3" fill="#f5a6ae"/>
<rect x="850" y="424" width="3" height="26" fill="#eb4d5c"/>
<rect x="854" y="450" width="1" height="5" fill="#a9dcc3"/>
<rect x="853" y="440" width="3" height="10" fill="#53b987"/>
<rect x="857" y="430" width="1" height="10" fill="#f5a6ae"/>
<rect x="857" y="443" width="1" height="8" fill="#f5a6ae"/>
<rect x="856" y="440" width="3" height="3" fill="#eb4d5c"/>
<rect x="860" y="415" width="1" height="2" fill="#a9dcc3"/>
<rect x="860" y="443" width="1" height="6" fill="#a9dcc3"/>
<rect x="859" y="417" width="3" height="26" fill="#53b987"/>
<rect x="863" y="418" width="1" height="5" fill="#a9dcc3"/>
<rect x="862" y="414" width="3" height="4" fill="#53b987"/>
<rect x="866" y="402" width="1" height="8" fill="#a9dcc3"/>
<rect x="865" y="410" width="3" height="5" fill="#53b987"/>
<rect x="869" y="405" width="1" height="5" fill="#f5a6ae"/>
<rect x="868" y="410" width="3" height="15" fill="#eb4d5c"/>
<rect x="872" y="409" width="1" height="9" fill="#a9dcc3"/>
<rect x="871" y="418" width="3" height="7" fill="#53b987"/>
<rect x="875" y="412" width="1" height="2" fill="#a9dcc3"/>
<rect x="875" y="419" width="1" height="2" fill="#a9dcc3"/>
<rect x="874" y="414" width="3" height="5" fill="#53b987"/>
<rect x="878" y="413" width="1" height="1" fill="#f5a6ae"/>
<rect x="877" y="414" width="3" height="5" fill="#eb4d5c"/>
<rect x="880" y="418" width="3" height="6" fill="#eb4d5c"/>
<rect x="883" y="400" width="3" height="24" fill="#53b987"/>
<rect x="887" y="389" width="1" height="11" fill="#f5a6ae"/>
<rect x="887" y="402" width="1" height="8" fill="#f5a6ae"/>
<rect x="886" y="400" width="3" height="2" fill="#eb4d5c"/>
<rect x="890" y="395" width="1" height="5" fill="#a9dcc3"/>
<rect x="890" y="402" width="1" height="3" fill="#a9dcc3"/>
<rect x="889" y="400" width="3" height="2" fill="#53b987"/>
<rect x="893" y="382" width="1" height="18" fill="#f5a6ae"/>
<rect x="893" y="404" width="1" height="42" fill="#f5a6ae"/>
<rect x="892" y="400" width="3" height="4" fill="#eb4d5c"/>
<rect x="896" y="384" width="1" height="6" fill="#a9dcc3"/>
<rect x="896" y="404" width="1" height="4" fill="#a9dcc3"/>
<rect x="895" y="390" width="3" height="14" fill="#53b987"/>
<rect x="899" y="388" width="1" height="2" fill="#f5a6ae"/>
<rect x="898" y="390" width="3" height="4" fill="#eb4d5c"/>
<rect x="902" y="391" width="1" height="2" fill="#f5a6ae"/>
<rect x="902" y="415" width="1" height="7" fill="#f5a6ae"/>
<rect x="901" y="393" width="3" height="22" fill="#eb4d5c"/>
<rect x="905" y="407" width="1" height="7" fill="#f5a6ae"/>
<rect x="905" y="421" width="1" height="15" fill="#f5a6ae"/>
<rect x="904" y="414" width="3" height="7" fill="#eb4d5c"/>
<rect x="908" y="398" width="1" height="17" fill="#a9dcc3"/>
<rect x="908" y="421" width="1" height="7" fill="#a9dcc3"/>
<rect x="907" y="415" width="3" height="6" fill="#53b987"/>
<rect x="911" y="407" width="1" height="8" fill="#f5a6ae"/>
<rect x="911" y="425" width="1" height="11" fill="#f5a6ae"/>
<rect x="910" y="415" width="3" height="10" fill="#eb4d5c"/>
<rect x="914" y="456" width="1" height="4" fill="#f5a6ae"/>
<rect x="913" y="424" width="3" height="32" fill="#eb4d5c"/>
<rect x="917" y="425" width="1" height="13" fill="#a9dcc3"/>
<rect x="916" y="438" width="3" height="18" fill="#53b987"/>
<rect x="920" y="424" width="1" height="14" fill="#f5a6ae"/>
<rect x="920" y="441" width="1" height="6" fill="#f5a6ae"/>
<rect x="919" y="438" width="3" height="3" fill="#eb4d5c"/>
<rect x="923" y="425" width="1" height="6" fill="#a9dcc3"/>
<rect x="923" y="441" width="1" height="4" fill="#a9dcc3"/>
<rect x="922" y="431" width="3" height="10" fill="#53b987"/>
<rect x="926" y="429" width="1" height="2" fill="#f5a6ae"/>
<rect x="926" y="438" width="1" height="8" fill="#f5a6ae"/>
<rect x="925" y="431" width="3" height="7" fill="#eb4d5c"/>
<rect x="929" y="444" width="1" height="16" fill="#f5a6ae"/>
<rect x="928" y="437" width="3" height="7" fill="#eb4d5c"/>
<rect x="932" y="436" width="1" height="2" fill="#a9dcc3"/>
<rect x="932" y="444" width="1" height="1" fill="#a9dcc3"/>
<rect x="931" y="438" width="3" height="6" fill="#53b987"/>
<rect x="935" y="437" width="1" height="1" fill="#f5a6ae"/>
<rect x="934" y="438" width="3" height="3" fill="#eb4d5c"/>
<rect x="938" y="478" width="1" height="7" fill="#f5a6ae"/>
<rect x="937" y="440" width="3" height="38" fill="#eb4d5c"/>
<rect x="941" y="463" width="1" height="5" fill="#a9dcc3"/>
<rect x="940" y="468" width="3" height="10" fill="#53b987"/>
<rect x="944" y="461" width="1" height="4" fill="#a9dcc3"/>
<rect x="944" y="469" width="1" height="3" fill="#a9dcc3"/>
<rect x="943" y="465" width="3" height="4" fill="#53b987"/>
<rect x="947" y="461" width="1" height="4" fill="#f5a6ae"/>
<rect x="946" y="465" width="3" height="2" fill="#eb4d5c"/>
<rect x="950" y="471" width="1" height="2" fill="#f5a6ae"/>
<rect x="949" y="466" width="3" height="5" fill="#eb4d5c"/>
<rect x="953" y="471" width="1" height="2" fill="#a9dcc3"/>
<rect x="952" y="469" width="3" height="2" fill="#53b987"/>
<rect x="956" y="472" width="1" height="9" fill="#f5a6ae"/>
<rect x="955" y="469" width="3" height="3" fill="#eb4d5c"/>
<rect x="959" y="472" width="1" height="6" fill="#a9dcc3"/>
<rect x="958" y="470" width="3" height="2" fill="#53b987"/>
<rect x="962" y="443" width="1" height="7" fill="#a9dcc3"/>
<rect x="961" y="450" width="3" height="21" fill="#53b987"/>
<rect x="965" y="444" width="1" height="3" fill="#a9dcc3"/>
<rect x="965" y="451" width="1" height="12" fill="#a9dcc3"/>
<rect x="964" y="447" width="3" height="4" fill="#53b987"/>
<rect x="968" y="443" width="1" height="4" fill="#f5a6ae"/>
<rect x="967" y="447" width="3" height="11" fill="#eb4d5c"/>
<rect x="971" y="458" width="1" height="6" fill="#a9dcc3"/>
<rect x="970" y="453" width="3" height="5" fill="#53b987"/>
<rect x="974" y="452" width="1" height="1" fill="#f5a6ae"/>
<rect x="974" y="482" width="1" height="5" fill="#f5a6ae"/>
<rect x="973" y="453" width="3" height="29" fill="#eb4d5c"/>
<rect x="977" y="471" width="1" height="10" fill="#f5a6ae"/>
<rect x="977" y="512" width="1" height="4" fill="#f5a6ae"/>
<rect x="976" y="481" width="3" height="31" fill="#eb4d5c"/>
<rect x="980" y="508" width="1" height="3" fill="#f5a6ae"/>
<rect x="979" y="511" width="3" height="19" fill="#eb4d5c"/>
<rect x="983" y="516" width="1" height="13" fill="#f5a6ae"/>
<rect x="982" y="529" width="3" height="15" fill="#eb4d5c"/>
<rect x="986" y="539" width="1" height="4" fill="#f5a6ae"/>
<rect x="986" y="556" width="1" height="12" fill="#f5a6ae"/>
<rect x="985" y="543" width="3" height="13" fill="#eb4d5c"/>
<rect x="989" y="549" width="1" height="6" fill="#f5a6ae"/>
<rect x="989" y="572" width="1" height="7" fill="#f5a6ae"/>
<rect x="988" y="555" width="3" height="17" fill="#eb4d5c"/>
<rect x="992" y="558" width="1" height="3" fill="#a9dcc3"/>
<rect x="992" y="572" width="1" height="1" fill="#a9dcc3"/>
<rect x="991" y="561" width="3" height="11" fill="#53b987"/>
<rect x="995" y="559" width="1" height="2" fill="#f5a6ae"/>
<rect x="995" y="569" width="1" height="8" fill="#f5a6ae"/>
<rect x="994" y="561" width="3" height="8" fill="#eb4d5c"/>
<rect x="998" y="564" width="1" height="3" fill="#a9dcc3"/>
<rect x="998" y="569" width="1" height="10" fill="#a9dcc3"/>
<rect x="997" y="567" width="3" height="2" fill="#53b987"/>
<rect x="1001" y="563" width="1" height="2" fill="#a9dcc3"/>
<rect x="1001" y="568" width="1" height="3" fill="#a9dcc3"/>
<rect x="1000" y="565" width="3" height="3" fill="#53b987"/>
<rect x="1004" y="558" width="1" height="1" fill="#a9dcc3"/>
<rect x="1003" y="559" width="3" height="7" fill="#53b987"/>
<rect x="1006" y="544" width="3" height="16" fill="#53b987"/>
<rect x="1009" y="544" width="3" height="4" fill="#eb4d5c"/>
<rect x="1013" y="539" width="1" height="4" fill="#a9dcc3"/>
<rect x="1012" y="543" width="3" height="5" fill="#53b987"/>
<rect x="1015" y="543" width="3" height="6" fill="#eb4d5c"/>
<rect x="1019" y="553" width="1" height="5" fill="#f5a6ae"/>
<rect x="1018" y="548" width="3" height="5" fill="#eb4d5c"/>
<rect x="1022" y="553" width="1" height="1" fill="#a9dcc3"/>
<rect x="1021" y="547" width="3" height="6" fill="#53b987"/>
<rect x="1025" y="545" width="1" height="2" fill="#f5a6ae"/>
<rect x="1025" y="555" width="1" height="15" fill="#f5a6ae"/>
<rect x="1024" y="547" width="3" height="8" fill="#eb4d5c"/>
<rect x="1028" y="558" width="1" height="7" fill="#f5a6ae"/>
<rect x="1027" y="554" width="3" height="4" fill="#eb4d5c"/>
<rect x="1031" y="548" width="1" height="3" fill="#a9dcc3"/>
<rect x="1031" y="558" width="1" height="9" fill="#a9dcc3"/>
<rect x="1030" y="551" width="3" height="7" fill="#53b987"/>
<rect x="1034" y="538" width="1" height="11" fill="#a9dcc3"/>
<rect x="1033" y="549" width="3" height="3" fill="#53b987"/>
<rect x="1037" y="545" width="1" height="4" fill="#f5a6ae"/>
<rect x="1037" y="560" width="1" height="5" fill="#f5a6ae"/>
<rect x="1036" y="549" width="3" height="11" fill="#eb4d5c"/>
<rect x="1040" y="541" width="1" height="11" fill="#a9dcc3"/>
<rect x="1039" y="552" width="3" height="8" fill="#53b987"/>
<rect x="1042" y="552" width="3" height="20" fill="#eb4d5c"/>
<rect x="1046" y="567" width="1" height="4" fill="#f5a6ae"/>
<rect x="1045" y="571" width="3" height="29" fill="#eb4d5c"/>
<rect x="1049" y="609" width="1" height="13" fill="#f5a6ae"/>
<rect x="1048" y="599" width="3" height="10" fill="#eb4d5c"/>
<rect x="1052" y="588" width="1" height="7" fill="#a9dcc3"/>
<rect x="1052" y="609" width="1" height="13" fill="#a9dcc3"/>
<rect x="1051" y="595" width="3" height="14" fill="#53b987"/>
<rect x="1055" y="577" width="1" height="15" fill="#a9dcc3"/>
<rect x="1055" y="596" width="1" height="6" fill="#a9dcc3"/>
<rect x="1054" y="592" width="3" height="4" fill="#53b987"/>
<rect x="1058" y="586" width="1" height="3" fill="#a9dcc3"/>
<rect x="1057" y="589" width="3" height="4" fill="#53b987"/>
</g>
<rect x="2" y="491" width="1185" height="1" fill="#000" shape-rendering="crispEdges"/>
<line x1="2" y1="589.5" x2="1187" y2="589.5" stroke="#53b987" stroke-width="1" stroke-dasharray="2,1" shape-rendering="crispEdges"/>
<g shape-rendering="crispEdges">
<rect x="1187" y="4" width="1" height="654" fill="#555555"/>
<rect x="2" y="657" width="1186" height="1" fill="#555555"/>
<rect x="1188" y="47" width="3" height="1" fill="#555555"/>
<rect x="1188" y="92" width="3" height="1" fill="#555555"/>
<rect x="1188" y="136" width="3" height="1" fill="#555555"/>
<rect x="1188" y="180" width="3" height="1" fill="#555555"/>
<rect x="1188" y="225" width="3" height="1" fill="#555555"/>
<rect x="1188" y="269" width="3" height="1" fill="#555555"/>
<rect x="1188" y="313" width="3" height="1" fill="#555555"/>
<rect x="1188" y="358" width="3" height="1" fill="#555555"/>
<rect x="1188" y="402" width="3" height="1" fill="#555555"/>
<rect x="1188" y="446" width="3" height="1" fill="#555555"/>
<rect x="1188" y="491" width="3" height="1" fill="#555555"/>
<rect x="1188" y="535" width="3" height="1" fill="#555555"/>
<rect x="1188" y="579" width="3" height="1" fill="#555555"/>
<rect x="1188" y="624" width="3" height="1" fill="#555555"/>
<rect x="45" y="658" width="1" height="3" fill="#555555"/>
<rect x="150" y="658" width="1" height="3" fill="#555555"/>
<rect x="252" y="658" width="1" height="3" fill="#555555"/>
<rect x="390" y="658" width="1" height="3" fill="#555555"/>
<rect x="495" y="658" width="1" height="3" fill="#555555"/>
<rect x="597" y="658" width="1" height="3" fill="#555555"/>
<rect x="702" y="658" width="1" height="3" fill="#555555"/>
<rect x="804" y="658" width="1" height="3" fill="#555555"/>
<rect x="942" y="658" width="1" height="3" fill="#555555"/>
<rect x="1082" y="658" width="1" height="3" fill="#555555"/>
</g>
<rect x="7.5" y="16.5" width="12" height="12" rx="1.2" ry="1.2" fill="#fff" stroke="#757575" stroke-width="1"/>
<rect x="9" y="22" width="9" height="1" fill="#757575" shape-rendering="crispEdges"/>
<text x="25.4" y="30" font-family="Liberation Sans, sans-serif" font-size="16" fill="#4a4a4a" stroke="#4a4a4a" stroke-width="0.5" textLength="56.5" lengthAdjust="spacingAndGlyphs">Natural</text>
<text x="86.6" y="30" font-family="Liberation Sans, sans-serif" font-size="16" fill="#4a4a4a" stroke="#4a4a4a" stroke-width="0.5" textLength="30.5" lengthAdjust="spacingAndGlyphs">Gas,</text>
<text x="125.2" y="30" font-family="Liberation Sans, sans-serif" font-size="16" fill="#4a4a4a" stroke="#4a4a4a" stroke-width="0.5" textLength="23.5" lengthAdjust="spacingAndGlyphs">60,</text>
<text x="154.6" y="30" font-family="Liberation Sans, sans-serif" font-size="16" fill="#4a4a4a" stroke="#4a4a4a" stroke-width="0.5" textLength="54" lengthAdjust="spacingAndGlyphs">OANDA</text>
<path d="M212 22 h8.2 l-4.1 4.1 z" fill="#b4b4b4"/>
<rect x="230" y="18" width="14" height="14" fill="#000" fill-opacity="0.15" shape-rendering="crispEdges"/><ellipse cx="237.2" cy="25.3" rx="4.8" ry="3.9" fill="#fff"/><circle cx="237.2" cy="25.3" r="2.5" fill="#d0d0d0"/><circle cx="237.2" cy="25.3" r="0.9" fill="#fff"/>
<rect x="247" y="18" width="14" height="14" fill="#000" fill-opacity="0.15" shape-rendering="crispEdges"/><circle cx="254.0" cy="25.0" r="3.0" fill="none" stroke="#fff" stroke-width="2.0"/><line x1="257.80" y1="25.00" x2="259.50" y2="25.00" stroke="#fff" stroke-width="2.0"/><line x1="256.69" y1="27.69" x2="257.89" y2="28.89" stroke="#fff" stroke-width="2.0"/><line x1="254.00" y1="28.80" x2="254.00" y2="30.50" stroke="#fff" stroke-width="2.0"/><line x1="251.31" y1="27.69" x2="250.11" y2="28.89" stroke="#fff" stroke-width="2.0"/><line x1="250.20" y1="25.00" x2="248.50" y2="25.00" stroke="#fff" stroke-width="2.0"/><line x1="251.31" y1="22.31" x2="250.11" y2="21.11" stroke="#fff" stroke-width="2.0"/><line x1="254.00" y1="21.20" x2="254.00" y2="19.50" stroke="#fff" stroke-width="2.0"/><line x1="256.69" y1="22.31" x2="257.89" y2="21.11" stroke="#fff" stroke-width="2.0"/>
<text x="268.8" y="30" font-family="Liberation Sans, sans-serif" font-size="16" fill="#4a4a4a" textLength="10.8" lengthAdjust="spacingAndGlyphs">O</text><text x="281.2" y="30" font-family="Liberation Sans, sans-serif" font-size="16" fill="#53b987" textLength="38.2" lengthAdjust="spacingAndGlyphs">2.886</text>
<text x="328.4" y="30" font-family="Liberation Sans, sans-serif" font-size="16" fill="#4a4a4a" textLength="11.1" lengthAdjust="spacingAndGlyphs">H</text><text x="341.3" y="30" font-family="Liberation Sans, sans-serif" font-size="16" fill="#53b987" textLength="38.2" lengthAdjust="spacingAndGlyphs">2.892</text>
<text x="389.2" y="30" font-family="Liberation Sans, sans-serif" font-size="16" fill="#4a4a4a" textLength="8.0" lengthAdjust="spacingAndGlyphs">L</text><text x="398.7" y="30" font-family="Liberation Sans, sans-serif" font-size="16" fill="#53b987" textLength="38.2" lengthAdjust="spacingAndGlyphs">2.886</text>
<text x="445.9" y="30" font-family="Liberation Sans, sans-serif" font-size="16" fill="#4a4a4a" textLength="9.8" lengthAdjust="spacingAndGlyphs">C</text><text x="458.3" y="30" font-family="Liberation Sans, sans-serif" font-size="16" fill="#53b987" textLength="38.2" lengthAdjust="spacingAndGlyphs">2.889</text>
<text x="7" y="48.5" font-family="Liberation Sans, sans-serif" font-size="12" fill="#4a4a4a" textLength="40" lengthAdjust="spacingAndGlyphs">Vol (20)</text>
<path d="M51 43 h8.2 l-4.1 4.1 z" fill="#b4b4b4"/>
<rect x="69" y="39" width="14" height="14" fill="#000" fill-opacity="0.15" shape-rendering="crispEdges"/><ellipse cx="76.2" cy="46.3" rx="4.8" ry="3.9" fill="#fff"/><circle cx="76.2" cy="46.3" r="2.5" fill="#d0d0d0"/><circle cx="76.2" cy="46.3" r="0.9" fill="#fff"/>
<rect x="86" y="39" width="14" height="14" fill="#000" fill-opacity="0.15" shape-rendering="crispEdges"/><circle cx="93.0" cy="46.0" r="3.0" fill="none" stroke="#fff" stroke-width="2.0"/><line x1="96.80" y1="46.00" x2="98.50" y2="46.00" stroke="#fff" stroke-width="2.0"/><line x1="95.69" y1="48.69" x2="96.89" y2="49.89" stroke="#fff" stroke-width="2.0"/><line x1="93.00" y1="49.80" x2="93.00" y2="51.50" stroke="#fff" stroke-width="2.0"/><line x1="90.31" y1="48.69" x2="89.11" y2="49.89" stroke="#fff" stroke-width="2.0"/><line x1="89.20" y1="46.00" x2="87.50" y2="46.00" stroke="#fff" stroke-width="2.0"/><line x1="90.31" y1="43.31" x2="89.11" y2="42.11" stroke="#fff" stroke-width="2.0"/><line x1="93.00" y1="42.20" x2="93.00" y2="40.50" stroke="#fff" stroke-width="2.0"/><line x1="95.69" y1="43.31" x2="96.89" y2="42.11" stroke="#fff" stroke-width="2.0"/>
<rect x="103" y="39" width="14" height="14" fill="#000" fill-opacity="0.15" shape-rendering="crispEdges"/>
<path d="M106 46 h8 M110 42 v8" stroke="#fff" stroke-width="2.6" fill="none"/>
<rect x="120" y="39" width="14" height="14" fill="#000" fill-opacity="0.15" shape-rendering="crispEdges"/>
<path d="M122.3 41.3 l9.6 9.6 M131.9 41.3 l-9.6 9.6" stroke="#fff" stroke-width="1.8" fill="none"/>
<text x="142" y="50" font-family="Liberation Sans, sans-serif" font-size="12" fill="#53b987" textLength="12" lengthAdjust="spacingAndGlyphs">55</text>
<text x="163.4" y="50" font-family="Liberation Sans, sans-serif" font-size="12" fill="#ff9850" textLength="20.4" lengthAdjust="spacingAndGlyphs">240</text>
<circle cx="1173" cy="21.8" r="7.2" fill="#fff" stroke="#ff9850" stroke-width="1.5"/>
<rect x="1172.2" y="17.4" width="1.7" height="6.2" fill="#ff9850"/><rect x="1172.3" y="24.9" width="1.5" height="1.5" fill="#ff9850"/>
<rect x="2" y="676" width="1221" height="23" fill="#e4e5e8" shape-rendering="crispEdges"/>
<rect x="2" y="697" width="1221" height="1" fill="#e1e2e5" shape-rendering="crispEdges"/>
<rect x="2" y="698" width="1221" height="1" fill="#dcdee1" shape-rendering="crispEdges"/>
<text x="15.5" y="691" font-family="Liberation Sans, sans-serif" font-size="11.3" fill="#858c9a" stroke="#858c9a" stroke-width="0.3" textLength="12.5" lengthAdjust="spacingAndGlyphs">1d</text>
<text x="54" y="691" font-family="Liberation Sans, sans-serif" font-size="11.3" fill="#858c9a" stroke="#858c9a" stroke-width="0.3" textLength="13" lengthAdjust="spacingAndGlyphs">5d</text>
<text x="94" y="691" font-family="Liberation Sans, sans-serif" font-size="11.3" fill="#858c9a" stroke="#858c9a" stroke-width="0.3" textLength="14.5" lengthAdjust="spacingAndGlyphs">1m</text>
<text x="134" y="691" font-family="Liberation Sans, sans-serif" font-size="11.3" fill="#858c9a" stroke="#858c9a" stroke-width="0.3" textLength="15" lengthAdjust="spacingAndGlyphs">3m</text>
<text x="175" y="691" font-family="Liberation Sans, sans-serif" font-size="11.3" fill="#858c9a" stroke="#858c9a" stroke-width="0.3" textLength="15" lengthAdjust="spacingAndGlyphs">6m</text>
<text x="216" y="691" font-family="Liberation Sans, sans-serif" font-size="11.3" fill="#858c9a" stroke="#858c9a" stroke-width="0.3" textLength="22" lengthAdjust="spacingAndGlyphs">YTD</text>
<text x="264" y="691" font-family="Liberation Sans, sans-serif" font-size="11.3" fill="#858c9a" stroke="#858c9a" stroke-width="0.3" textLength="12.5" lengthAdjust="spacingAndGlyphs">1y</text>
<text x="303" y="691" font-family="Liberation Sans, sans-serif" font-size="11.3" fill="#858c9a" stroke="#858c9a" stroke-width="0.3" textLength="12" lengthAdjust="spacingAndGlyphs">5y</text>
<text x="342" y="691" font-family="Liberation Sans, sans-serif" font-size="11.3" fill="#858c9a" stroke="#858c9a" stroke-width="0.3" textLength="14" lengthAdjust="spacingAndGlyphs">All</text>
<text x="382" y="691" font-family="Liberation Sans, sans-serif" font-size="11.3" fill="#858c9a" stroke="#858c9a" stroke-width="0.3" textLength="39.5" lengthAdjust="spacingAndGlyphs">Go to...</text>
<rect x="40" y="680" width="1" height="14" fill="#a0a0a0" shape-rendering="crispEdges"/>
<rect x="79" y="680" width="1" height="14" fill="#a0a0a0" shape-rendering="crispEdges"/>
<rect x="120" y="680" width="1" height="14" fill="#a0a0a0" shape-rendering="crispEdges"/>
<rect x="161" y="680" width="1" height="14" fill="#a0a0a0" shape-rendering="crispEdges"/>
<rect x="202" y="680" width="1" height="14" fill="#a0a0a0" shape-rendering="crispEdges"/>
<rect x="250" y="680" width="1" height="14" fill="#a0a0a0" shape-rendering="crispEdges"/>
<rect x="289" y="680" width="1" height="14" fill="#a0a0a0" shape-rendering="crispEdges"/>
<rect x="328" y="680" width="1" height="14" fill="#a0a0a0" shape-rendering="crispEdges"/>
<rect x="368" y="680" width="1" height="14" fill="#a0a0a0" shape-rendering="crispEdges"/>
<rect x="1014" y="680" width="1" height="14" fill="#a0a0a0" shape-rendering="crispEdges"/>
<rect x="1058" y="680" width="1" height="14" fill="#a0a0a0" shape-rendering="crispEdges"/>
<rect x="1092" y="680" width="1" height="14" fill="#a0a0a0" shape-rendering="crispEdges"/>
<rect x="1134" y="680" width="1" height="14" fill="#a0a0a0" shape-rendering="crispEdges"/>
<rect x="1184" y="680" width="1" height="14" fill="#a0a0a0" shape-rendering="crispEdges"/>
<text x="926.5" y="691" font-family="Liberation Sans, sans-serif" font-size="11.3" font-weight="bold" fill="#8a8a8a" stroke="#8a8a8a" stroke-width="0.3" textLength="43" lengthAdjust="spacingAndGlyphs">16:02:57</text>
<text x="974.5" y="691" font-family="Liberation Sans, sans-serif" font-size="11.3" fill="#8a8a8a" stroke="#8a8a8a" stroke-width="0.3" textLength="27.5" lengthAdjust="spacingAndGlyphs">(UTC)</text>
<text x="1028" y="691" font-family="Liberation Sans, sans-serif" font-size="11.3" fill="#8a8a8a" stroke="#8a8a8a" stroke-width="0.3" textLength="18" lengthAdjust="spacingAndGlyphs">ext</text>
<text x="1071.8" y="691" font-family="Liberation Sans, sans-serif" font-size="11.3" fill="#777" stroke="#777" stroke-width="0.3" textLength="8.6" lengthAdjust="spacingAndGlyphs">%</text>
<text x="1106" y="691" font-family="Liberation Sans, sans-serif" font-size="11.3" fill="#8a8a8a" stroke="#8a8a8a" stroke-width="0.3" textLength="16.5" lengthAdjust="spacingAndGlyphs">log</text>
<text x="1148.5" y="691" font-family="Liberation Sans, sans-serif" font-size="11.3" fill="#4db8e8" stroke="#4db8e8" stroke-width="0.3" textLength="24" lengthAdjust="spacingAndGlyphs">auto</text>
<circle cx="1205" cy="687.2" r="3.6" fill="none" stroke="#828282" stroke-width="1.8"/><line x1="1209.00" y1="687.20" x2="1211.00" y2="687.20" stroke="#828282" stroke-width="2.1"/><line x1="1207.83" y1="690.03" x2="1209.24" y2="691.44" stroke="#828282" stroke-width="2.1"/><line x1="1205.00" y1="691.20" x2="1205.00" y2="693.20" stroke="#828282" stroke-width="2.1"/><line x1="1202.17" y1="690.03" x2="1200.76" y2="691.44" stroke="#828282" stroke-width="2.1"/><line x1="1201.00" y1="687.20" x2="1199.00" y2="687.20" stroke="#828282" stroke-width="2.1"/><line x1="1202.17" y1="684.37" x2="1200.76" y2="682.96" stroke="#828282" stroke-width="2.1"/><line x1="1205.00" y1="683.20" x2="1205.00" y2="681.20" stroke="#828282" stroke-width="2.1"/><line x1="1207.83" y1="684.37" x2="1209.24" y2="682.96" stroke="#828282" stroke-width="2.1"/>
</svg>
<div style="position:absolute;left:0;top:0;width:1223px;height:699px;will-change:transform;opacity:0.999"><svg width="1223" height="699" viewBox="0 0 1223 699" style="display:block">
<text x="1194" y="52" font-family="Liberation Sans, sans-serif" font-size="11" fill="#505050" stroke="#505050" stroke-width="0.15">3.500</text>
<text x="1194" y="97" font-family="Liberation Sans, sans-serif" font-size="11" fill="#505050" stroke="#505050" stroke-width="0.15">3.450</text>
<text x="1194" y="141" font-family="Liberation Sans, sans-serif" font-size="11" fill="#505050" stroke="#505050" stroke-width="0.15">3.400</text>
<text x="1194" y="185" font-family="Liberation Sans, sans-serif" font-size="11" fill="#505050" stroke="#505050" stroke-width="0.15">3.350</text>
<text x="1194" y="230" font-family="Liberation Sans, sans-serif" font-size="11" fill="#505050" stroke="#505050" stroke-width="0.15">3.300</text>
<text x="1194" y="274" font-family="Liberation Sans, sans-serif" font-size="11" fill="#505050" stroke="#505050" stroke-width="0.15">3.250</text>
<text x="1194" y="318" font-family="Liberation Sans, sans-serif" font-size="11" fill="#505050" stroke="#505050" stroke-width="0.15">3.200</text>
<text x="1194" y="363" font-family="Liberation Sans, sans-serif" font-size="11" fill="#505050" stroke="#505050" stroke-width="0.15">3.150</text>
<text x="1194" y="407" font-family="Liberation Sans, sans-serif" font-size="11" fill="#505050" stroke="#505050" stroke-width="0.15">3.100</text>
<text x="1194" y="451" font-family="Liberation Sans, sans-serif" font-size="11" fill="#505050" stroke="#505050" stroke-width="0.15">3.050</text>
<text x="1194" y="540" font-family="Liberation Sans, sans-serif" font-size="11" fill="#505050" stroke="#505050" stroke-width="0.15">2.950</text>
<text x="1194" y="584" font-family="Liberation Sans, sans-serif" font-size="11" fill="#505050" stroke="#505050" stroke-width="0.15">2.900</text>
<text x="1194" y="629" font-family="Liberation Sans, sans-serif" font-size="11" fill="#505050" stroke="#505050" stroke-width="0.15">2.850</text>
<g shape-rendering="crispEdges">
<rect x="1187" y="484" width="36" height="16" fill="#000"/>
<rect x="1187" y="491" width="4" height="1" fill="#fff"/>
<rect x="1187" y="582" width="36" height="16" fill="#53b987"/>
<rect x="1188" y="589" width="3" height="1" fill="#fff"/>
<rect x="1191" y="599" width="32" height="16" fill="#53b987"/>
</g>
<text x="1194" y="496.3" font-family="Liberation Sans, sans-serif" font-size="11" fill="#fff" stroke="#fff" stroke-width="0.25">3.000</text>
<text x="1194" y="594" font-family="Liberation Sans, sans-serif" font-size="11" fill="#fff" stroke="#fff" stroke-width="0.25">2.889</text>
<text x="1194" y="611" font-family="Liberation Sans, sans-serif" font-size="11" fill="#fff" stroke="#fff" stroke-width="0.25">57:02</text>
<text x="45.5" y="672" text-anchor="middle" font-family="Liberation Sans, sans-serif" font-size="11" fill="#444" stroke="#444" stroke-width="0.2">17</text>
<text x="150.5" y="672" text-anchor="middle" font-family="Liberation Sans, sans-serif" font-size="11" fill="#444" stroke="#444" stroke-width="0.2">12:00</text>
<text x="252.5" y="672" text-anchor="middle" font-family="Liberation Sans, sans-serif" font-size="11" fill="#444" stroke="#444" stroke-width="0.2">22</text>
<text x="390.5" y="672" text-anchor="middle" font-family="Liberation Sans, sans-serif" font-size="11" fill="#444" stroke="#444" stroke-width="0.2">24</text>
<text x="495.5" y="672" text-anchor="middle" font-family="Liberation Sans, sans-serif" font-size="11" fill="#444" stroke="#444" stroke-width="0.2">12:00</text>
<text x="597.5" y="672" text-anchor="middle" font-family="Liberation Sans, sans-serif" font-size="11" fill="#444" stroke="#444" stroke-width="0.2">29</text>
<text x="702.5" y="672" text-anchor="middle" font-family="Liberation Sans, sans-serif" font-size="11" fill="#444" stroke="#444" stroke-width="0.2">12:00</text>
<text x="804.5" y="672" text-anchor="middle" font-family="Liberation Sans, sans-serif" font-size="11" font-weight="bold" fill="#444" stroke="#444" stroke-width="0.2">Feb</text>
<text x="942.5" y="672" text-anchor="middle" font-family="Liberation Sans, sans-serif" font-size="11" fill="#444" stroke="#444" stroke-width="0.2">5</text>
<text x="1082.5" y="672" text-anchor="middle" font-family="Liberation Sans, sans-serif" font-size="11" fill="#444" stroke="#444" stroke-width="0.2">7</text>
</svg></div>
</body></html>
